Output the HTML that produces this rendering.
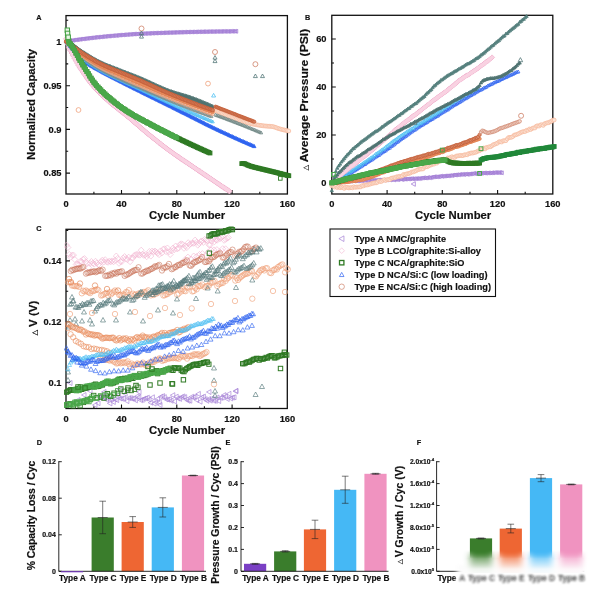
<!DOCTYPE html><html><head><meta charset="utf-8"><title>Figure</title><style>html,body{margin:0;padding:0;background:#fff}svg{display:block}text{stroke:#111;stroke-width:.18px}</style></head><body><svg width="600" height="593" viewBox="0 0 600 593" font-family="Liberation Sans, Arial, Helvetica, sans-serif" font-weight="bold" fill="#111"><defs><marker id="m0" markerUnits="userSpaceOnUse" markerWidth="5.6" markerHeight="5.6" refX="0" refY="0" viewBox="-2.8 -2.8 5.6 5.6" overflow="visible"><path d="M-1.9 0L1.52 -1.9L1.52 1.9Z" fill="none" stroke="#a47fd6" stroke-width="0.9"/></marker><marker id="m1" markerUnits="userSpaceOnUse" markerWidth="6.8" markerHeight="6.8" refX="0" refY="0" viewBox="-3.4 -3.4 6.8 6.8" overflow="visible"><path d="M0 -2.7L2.7 0L0 2.7L-2.7 0Z" fill="#fad9e6" stroke="#eea5c6" stroke-width="0.7"/></marker><marker id="m2" markerUnits="userSpaceOnUse" markerWidth="4.0" markerHeight="4.0" refX="0" refY="0" viewBox="-2.0 -2.0 4.0 4.0" overflow="visible"><path d="M0 -2.0L2.0 0L0 2.0L-2.0 0Z" fill="#f9d2e2" stroke="none" stroke-width="0"/></marker><marker id="m3" markerUnits="userSpaceOnUse" markerWidth="5.2" markerHeight="5.2" refX="0" refY="0" viewBox="-2.6 -2.6 5.2 5.2" overflow="visible"><path d="M0 -1.8L1.8 1.44L-1.8 1.44Z" fill="#2f63f0" stroke="#2f63f0" stroke-width="0.8"/></marker><marker id="m4" markerUnits="userSpaceOnUse" markerWidth="4.8" markerHeight="4.8" refX="0" refY="0" viewBox="-2.4 -2.4 4.8 4.8" overflow="visible"><path d="M0 -1.6L1.6 1.28L-1.6 1.28Z" fill="none" stroke="#4fc0f2" stroke-width="0.8"/></marker><marker id="m5" markerUnits="userSpaceOnUse" markerWidth="4.8" markerHeight="4.8" refX="0" refY="0" viewBox="-2.4 -2.4 4.8 4.8" overflow="visible"><path d="M0 -1.6L1.6 1.28L-1.6 1.28Z" fill="none" stroke="#7d8d8a" stroke-width="0.8"/></marker><marker id="m6" markerUnits="userSpaceOnUse" markerWidth="4.8" markerHeight="4.8" refX="0" refY="0" viewBox="-2.4 -2.4 4.8 4.8" overflow="visible"><path d="M0 -1.6L1.6 1.28L-1.6 1.28Z" fill="#55787a" stroke="#55787a" stroke-width="0.8"/></marker><marker id="m7" markerUnits="userSpaceOnUse" markerWidth="4.8" markerHeight="4.8" refX="0" refY="0" viewBox="-2.4 -2.4 4.8 4.8" overflow="visible"><path d="M0 -1.6L1.6 1.28L-1.6 1.28Z" fill="#4f7371" stroke="#4f7371" stroke-width="0.8"/></marker><marker id="m8" markerUnits="userSpaceOnUse" markerWidth="4.9" markerHeight="4.9" refX="0" refY="0" viewBox="-2.5 -2.5 4.9 4.9" overflow="visible"><circle r="1.65" fill="none" stroke="#f0a27c" stroke-width="0.8"/></marker><marker id="m9" markerUnits="userSpaceOnUse" markerWidth="5.3" markerHeight="5.3" refX="0" refY="0" viewBox="-2.6 -2.6 5.3 5.3" overflow="visible"><circle r="1.95" fill="#fbe3d6" stroke="#f6b89b" stroke-width="0.7"/></marker><marker id="m10" markerUnits="userSpaceOnUse" markerWidth="4.9" markerHeight="4.9" refX="0" refY="0" viewBox="-2.5 -2.5 4.9 4.9" overflow="visible"><circle r="1.65" fill="#e9966c" stroke="#e2804f" stroke-width="0.8"/></marker><marker id="m11" markerUnits="userSpaceOnUse" markerWidth="5.2" markerHeight="5.2" refX="0" refY="0" viewBox="-2.6 -2.6 5.2 5.2" overflow="visible"><circle r="1.7999999999999998" fill="#d27a58" stroke="#c4603a" stroke-width="0.8"/></marker><marker id="m12" markerUnits="userSpaceOnUse" markerWidth="4.9" markerHeight="4.9" refX="0" refY="0" viewBox="-2.5 -2.5 4.9 4.9" overflow="visible"><circle r="1.65" fill="#d27a58" stroke="#c4603a" stroke-width="0.8"/></marker><marker id="m13" markerUnits="userSpaceOnUse" markerWidth="4.8" markerHeight="4.8" refX="0" refY="0" viewBox="-2.4 -2.4 4.8 4.8" overflow="visible"><path d="M0 -1.6L1.6 1.28L-1.6 1.28Z" fill="none" stroke="#6f8684" stroke-width="0.8"/></marker><marker id="m14" markerUnits="userSpaceOnUse" markerWidth="5.9" markerHeight="5.9" refX="0" refY="0" viewBox="-3.0 -3.0 5.9 5.9" overflow="visible"><rect x="-1.85" y="-1.85" width="3.7" height="3.7" fill="#2f7a24" stroke="#2f7a24" stroke-width="1.1"/></marker><marker id="m15" markerUnits="userSpaceOnUse" markerWidth="5.9" markerHeight="5.9" refX="0" refY="0" viewBox="-3.0 -3.0 5.9 5.9" overflow="visible"><rect x="-1.85" y="-1.85" width="3.7" height="3.7" fill="#4aa84a" stroke="#4aa84a" stroke-width="1.1"/></marker><marker id="m16" markerUnits="userSpaceOnUse" markerWidth="5.4" markerHeight="5.4" refX="0" refY="0" viewBox="-2.7 -2.7 5.4 5.4" overflow="visible"><rect x="-1.8" y="-1.8" width="3.6" height="3.6" fill="none" stroke="#2f7a24" stroke-width="0.9"/></marker><marker id="m17" markerUnits="userSpaceOnUse" markerWidth="6.4" markerHeight="6.4" refX="0" refY="0" viewBox="-3.2 -3.2 6.4 6.4" overflow="visible"><rect x="-2.2" y="-2.2" width="4.4" height="4.4" fill="#e9f5e6" stroke="#43a043" stroke-width="1.0"/></marker><marker id="m18" markerUnits="userSpaceOnUse" markerWidth="6.6" markerHeight="6.6" refX="0" refY="0" viewBox="-3.3 -3.3 6.6 6.6" overflow="visible"><circle r="2.5" fill="none" stroke="#cf8168" stroke-width="0.8"/></marker><marker id="m19" markerUnits="userSpaceOnUse" markerWidth="5.6" markerHeight="5.6" refX="0" refY="0" viewBox="-2.8 -2.8 5.6 5.6" overflow="visible"><path d="M0 -2.0L2.0 1.60L-2.0 1.60Z" fill="none" stroke="#55787a" stroke-width="0.8"/></marker><marker id="m20" markerUnits="userSpaceOnUse" markerWidth="6.4" markerHeight="6.4" refX="0" refY="0" viewBox="-3.2 -3.2 6.4 6.4" overflow="visible"><circle r="2.4" fill="none" stroke="#f0a27c" stroke-width="0.8"/></marker><marker id="m21" markerUnits="userSpaceOnUse" markerWidth="5.6" markerHeight="5.6" refX="0" refY="0" viewBox="-2.8 -2.8 5.6 5.6" overflow="visible"><path d="M0 -2.0L2.0 1.60L-2.0 1.60Z" fill="none" stroke="#4fc0f2" stroke-width="0.8"/></marker><marker id="m22" markerUnits="userSpaceOnUse" markerWidth="6.2" markerHeight="6.2" refX="0" refY="0" viewBox="-3.1 -3.1 6.2 6.2" overflow="visible"><path d="M-2.3 0L1.84 -2.3L1.84 2.3Z" fill="none" stroke="#a47fd6" stroke-width="0.8"/></marker><marker id="m23" markerUnits="userSpaceOnUse" markerWidth="4.9" markerHeight="4.9" refX="0" refY="0" viewBox="-2.5 -2.5 4.9 4.9" overflow="visible"><circle r="1.65" fill="#dc9070" stroke="#c4603a" stroke-width="0.8"/></marker><marker id="m24" markerUnits="userSpaceOnUse" markerWidth="4.9" markerHeight="4.9" refX="0" refY="0" viewBox="-2.5 -2.5 4.9 4.9" overflow="visible"><circle r="1.75" fill="#f3d6cb" stroke="#d08a72" stroke-width="0.7"/></marker><marker id="m25" markerUnits="userSpaceOnUse" markerWidth="4.8" markerHeight="4.8" refX="0" refY="0" viewBox="-2.4 -2.4 4.8 4.8" overflow="visible"><path d="M0 -1.6L1.6 1.28L-1.6 1.28Z" fill="none" stroke="#2f63f0" stroke-width="0.8"/></marker><marker id="m26" markerUnits="userSpaceOnUse" markerWidth="6.4" markerHeight="6.4" refX="0" refY="0" viewBox="-3.2 -3.2 6.4 6.4" overflow="visible"><path d="M0 -2.5L2.5 0L0 2.5L-2.5 0Z" fill="#fad9e6" stroke="#efa9c9" stroke-width="0.7"/></marker><marker id="m27" markerUnits="userSpaceOnUse" markerWidth="3.8" markerHeight="3.8" refX="0" refY="0" viewBox="-1.9 -1.9 3.8 3.8" overflow="visible"><path d="M0 -1.9L1.9 0L0 1.9L-1.9 0Z" fill="#f9d2e2" stroke="none" stroke-width="0"/></marker><marker id="m28" markerUnits="userSpaceOnUse" markerWidth="6.2" markerHeight="6.2" refX="0" refY="0" viewBox="-3.1 -3.1 6.2 6.2" overflow="visible"><path d="M0 -2.3L2.3 1.84L-2.3 1.84Z" fill="none" stroke="#55787a" stroke-width="0.8"/></marker><marker id="m29" markerUnits="userSpaceOnUse" markerWidth="4.8" markerHeight="4.8" refX="0" refY="0" viewBox="-2.4 -2.4 4.8 4.8" overflow="visible"><path d="M0 -1.6L1.6 1.28L-1.6 1.28Z" fill="#55807d" stroke="#55807d" stroke-width="0.8"/></marker><marker id="m30" markerUnits="userSpaceOnUse" markerWidth="5.9" markerHeight="5.9" refX="0" refY="0" viewBox="-3.0 -3.0 5.9 5.9" overflow="visible"><rect x="-1.85" y="-1.85" width="3.7" height="3.7" fill="#21883a" stroke="#21883a" stroke-width="1.1"/></marker><marker id="m31" markerUnits="userSpaceOnUse" markerWidth="5.8" markerHeight="5.8" refX="0" refY="0" viewBox="-2.9 -2.9 5.8 5.8" overflow="visible"><rect x="-1.9" y="-1.9" width="3.8" height="3.8" fill="none" stroke="#4aa84a" stroke-width="1.0"/></marker><marker id="m32" markerUnits="userSpaceOnUse" markerWidth="6.3" markerHeight="6.3" refX="0" refY="0" viewBox="-3.1 -3.1 6.3 6.3" overflow="visible"><path d="M-2.5 0L2.00 -2.5L2.00 2.5Z" fill="none" stroke="#a47fd6" stroke-width="0.65"/></marker><marker id="m33" markerUnits="userSpaceOnUse" markerWidth="7.2" markerHeight="7.2" refX="0" refY="0" viewBox="-3.6 -3.6 7.2 7.2" overflow="visible"><path d="M0 -3.0L3.0 0L0 3.0L-3.0 0Z" fill="none" stroke="#f2b3d0" stroke-width="0.6"/></marker><marker id="m34" markerUnits="userSpaceOnUse" markerWidth="6.6" markerHeight="6.6" refX="0" refY="0" viewBox="-3.3 -3.3 6.6 6.6" overflow="visible"><circle r="2.7" fill="none" stroke="#c9735a" stroke-width="0.6"/></marker><marker id="m35" markerUnits="userSpaceOnUse" markerWidth="6.7" markerHeight="6.7" refX="0" refY="0" viewBox="-3.4 -3.4 6.7 6.7" overflow="visible"><circle r="2.7" fill="none" stroke="#f0a27c" stroke-width="0.65"/></marker><marker id="m36" markerUnits="userSpaceOnUse" markerWidth="6.7" markerHeight="6.7" refX="0" refY="0" viewBox="-3.4 -3.4 6.7 6.7" overflow="visible"><circle r="2.7" fill="none" stroke="#e2804f" stroke-width="0.65"/></marker><marker id="m37" markerUnits="userSpaceOnUse" markerWidth="6.3" markerHeight="6.3" refX="0" refY="0" viewBox="-3.1 -3.1 6.3 6.3" overflow="visible"><path d="M0 -2.5L2.5 2.00L-2.5 2.00Z" fill="none" stroke="#55787a" stroke-width="0.65"/></marker><marker id="m38" markerUnits="userSpaceOnUse" markerWidth="6.7" markerHeight="6.7" refX="0" refY="0" viewBox="-3.4 -3.4 6.7 6.7" overflow="visible"><circle r="2.7" fill="none" stroke="#ea8f62" stroke-width="0.65"/></marker><marker id="m39" markerUnits="userSpaceOnUse" markerWidth="5.5" markerHeight="5.5" refX="0" refY="0" viewBox="-2.8 -2.8 5.5 5.5" overflow="visible"><path d="M0 -2.1L2.1 1.68L-2.1 1.68Z" fill="none" stroke="#4fc0f2" stroke-width="0.65"/></marker><marker id="m40" markerUnits="userSpaceOnUse" markerWidth="6.1" markerHeight="6.1" refX="0" refY="0" viewBox="-3.0 -3.0 6.1 6.1" overflow="visible"><path d="M0 -2.4L2.4 1.92L-2.4 1.92Z" fill="none" stroke="#2f63f0" stroke-width="0.65"/></marker><marker id="m41" markerUnits="userSpaceOnUse" markerWidth="6.2" markerHeight="6.2" refX="0" refY="0" viewBox="-3.1 -3.1 6.2 6.2" overflow="visible"><rect x="-2.1" y="-2.1" width="4.2" height="4.2" fill="none" stroke="#2f7a24" stroke-width="1.0"/></marker><marker id="m42" markerUnits="userSpaceOnUse" markerWidth="6.2" markerHeight="6.2" refX="0" refY="0" viewBox="-3.1 -3.1 6.2 6.2" overflow="visible"><rect x="-2.2" y="-2.2" width="4.4" height="4.4" fill="none" stroke="#2f7a24" stroke-width="0.9"/></marker><marker id="m43" markerUnits="userSpaceOnUse" markerWidth="6.2" markerHeight="6.2" refX="0" refY="0" viewBox="-3.1 -3.1 6.2 6.2" overflow="visible"><rect x="-2.2" y="-2.2" width="4.4" height="4.4" fill="none" stroke="#4aa84a" stroke-width="0.9"/></marker><marker id="m44" markerUnits="userSpaceOnUse" markerWidth="6.2" markerHeight="6.2" refX="0" refY="0" viewBox="-3.1 -3.1 6.2 6.2" overflow="visible"><rect x="-2.1" y="-2.1" width="4.2" height="4.2" fill="none" stroke="#4aa84a" stroke-width="1.0"/></marker><marker id="m45" markerUnits="userSpaceOnUse" markerWidth="6.4" markerHeight="6.4" refX="0" refY="0" viewBox="-3.2 -3.2 6.4 6.4" overflow="visible"><rect x="-2.2" y="-2.2" width="4.4" height="4.4" fill="none" stroke="#2f7a24" stroke-width="1.0"/></marker></defs><rect width="600" height="593" fill="#fff"/>
<rect x="66.0" y="15.6" width="221.39999999999998" height="178.4" fill="none" stroke="#111" stroke-width="1.3"/>
<path d="M121.5 194.0v-4M176.8 194.0v-4M232.1 194.0v-4" stroke="#111" stroke-width="1.1" fill="none"/>
<path d="M93.9 194.0v-2.2M149.2 194.0v-2.2M204.4 194.0v-2.2M259.8 194.0v-2.2" stroke="#111" stroke-width="1.1" fill="none"/>
<path d="M66.0 42.0h4M66.0 85.7h4M66.0 129.4h4M66.0 173.1h4" stroke="#111" stroke-width="1.1" fill="none"/>
<path d="M66.0 20.2h2.2M66.0 63.9h2.2M66.0 107.5h2.2M66.0 151.2h2.2" stroke="#111" stroke-width="1.1" fill="none"/>
<g id="plotA">
<polyline points="70.3,40.8 71.7,40.5 73.1,40.3 74.5,40.0 75.9,39.8 77.3,39.7 78.6,39.5 80.0,39.3 81.4,39.1 82.8,38.9 84.2,38.8 85.6,38.6 86.9,38.4 88.3,38.3 89.7,38.1 91.1,37.9 92.5,37.8 93.9,37.6 95.2,37.4 96.6,37.3 98.0,37.2 99.4,37.0 100.8,36.9 102.1,36.7 103.5,36.6 104.9,36.5 106.3,36.3 107.7,36.2 109.1,36.1 110.4,36.0 111.8,35.8 113.2,35.7 114.6,35.6 116.0,35.5 117.4,35.4 118.7,35.2 120.1,35.1 121.5,35.0 122.9,34.9 124.3,34.8 125.6,34.7 127.0,34.6 128.4,34.5 129.8,34.4 131.2,34.3 132.6,34.2 133.9,34.1 135.3,34.0 136.7,34.0 138.1,33.9 139.5,33.8 140.9,33.7 142.2,33.7 143.6,33.6 145.0,33.5 146.4,33.5 147.8,33.4 149.2,33.4 150.5,33.3 151.9,33.2 153.3,33.2 154.7,33.1 156.1,33.1 157.4,33.0 158.8,33.0 160.2,32.9 161.6,32.9 163.0,32.8 164.4,32.8 165.7,32.7 167.1,32.7 168.5,32.6 169.9,32.6 171.3,32.6 172.7,32.5 174.0,32.5 175.4,32.4 176.8,32.4 178.2,32.3 179.6,32.3 180.9,32.3 182.3,32.2 183.7,32.2 185.1,32.1 186.5,32.1 187.9,32.1 189.2,32.0 190.6,32.0 192.0,32.0 193.4,31.9 194.8,31.9 196.2,31.9 197.5,31.8 198.9,31.8 200.3,31.8 201.7,31.8 203.1,31.7 204.4,31.7 205.8,31.7 207.2,31.7 208.6,31.6 210.0,31.6 211.4,31.6 212.7,31.6 214.1,31.6 215.5,31.5 216.9,31.5 218.3,31.5 219.7,31.5 221.0,31.5 222.4,31.4 223.8,31.4 225.2,31.4 226.6,31.4 228.0,31.4 229.3,31.4 230.7,31.3 232.1,31.3 233.5,31.3 234.9,31.3 236.2,31.3" fill="none" stroke="none" marker-start="url(#m0)" marker-mid="url(#m0)" marker-end="url(#m0)"/>
<polyline points="66.2,38.9 67.6,44.1 69.0,47.7 70.3,50.3 71.7,53.0 73.1,55.6 74.5,58.2 75.9,60.7 77.3,63.1 78.6,65.4 80.0,67.7 81.4,69.8 82.8,71.9 84.2,74.0 85.6,76.0 86.9,77.9 88.3,79.8 89.7,81.7 91.1,83.4 92.5,85.1 93.9,86.7 95.2,88.2 96.6,89.7 98.0,91.2 99.4,92.6 100.8,94.0 102.1,95.3 103.5,96.6 104.9,97.9 106.3,99.2 107.7,100.4 109.1,101.6 110.4,102.8 111.8,103.9 113.2,105.1 114.6,106.2 116.0,107.3 117.4,108.4 118.7,109.5 120.1,110.5 121.5,111.6 122.9,112.7 124.3,113.8 125.6,114.9 127.0,116.0 128.4,117.2 129.8,118.3 131.2,119.5 132.6,120.7 133.9,121.9 135.3,123.0 136.7,124.2 138.1,125.4 139.5,126.6 140.9,127.8 142.2,129.0 143.6,130.2 145.0,131.4 146.4,132.5 147.8,133.7 149.2,134.8 150.5,135.9 151.9,137.0 153.3,138.2 154.7,139.3 156.1,140.4 157.4,141.4 158.8,142.5 160.2,143.6 161.6,144.7 163.0,145.7 164.4,146.8 165.7,147.8 167.1,148.9 168.5,149.9 169.9,150.9 171.3,151.9 172.7,152.9 174.0,153.9 175.4,154.8 176.8,155.8 178.2,156.8 179.6,157.7 180.9,158.7 182.3,159.6 183.7,160.5 185.1,161.5 186.5,162.4 187.9,163.3 189.2,164.3 190.6,165.2 192.0,166.1 193.4,167.1 194.8,168.0 196.2,168.9 197.5,169.8 198.9,170.8 200.3,171.7 201.7,172.6 203.1,173.6 204.4,174.5 205.8,175.4 207.2,176.4 208.6,177.3 210.0,178.2 211.4,179.2 212.7,180.1 214.1,181.0 215.5,181.9 216.9,182.9 218.3,183.8 219.7,184.7 221.0,185.7 222.4,186.6 223.8,187.5 225.2,188.4 226.6,189.4 228.0,190.3 229.3,191.2" fill="none" stroke="none" marker-start="url(#m1)" marker-mid="url(#m1)" marker-end="url(#m1)"/>
<polyline points="66.2,38.9 66.9,41.6 67.6,44.1 68.3,46.2 69.0,47.7 69.7,49.0 70.3,50.3 71.0,51.6 71.7,53.0 72.4,54.3 73.1,55.6 73.8,56.9 74.5,58.2 75.2,59.4 75.9,60.7 76.6,61.9 77.3,63.1 78.0,64.2 78.6,65.4 79.3,66.5 80.0,67.7 80.7,68.8 81.4,69.8 82.1,70.9 82.8,71.9 83.5,73.0 84.2,74.0 84.9,75.0 85.6,76.0 86.2,77.0 86.9,77.9 87.6,78.9 88.3,79.8 89.0,80.7 89.7,81.7 90.4,82.5 91.1,83.4 91.8,84.3 92.5,85.1 93.2,85.9 93.9,86.7 94.5,87.5 95.2,88.2 95.9,89.0 96.6,89.7 97.3,90.5 98.0,91.2 98.7,91.9 99.4,92.6 100.1,93.3 100.8,94.0 101.5,94.6 102.1,95.3 102.8,96.0 103.5,96.6 104.2,97.3 104.9,97.9 105.6,98.6 106.3,99.2 107.0,99.8 107.7,100.4 108.4,101.0 109.1,101.6 109.7,102.2 110.4,102.8 111.1,103.4 111.8,103.9 112.5,104.5 113.2,105.1 113.9,105.6 114.6,106.2 115.3,106.7 116.0,107.3 116.7,107.8 117.4,108.4 118.0,108.9 118.7,109.5 119.4,110.0 120.1,110.5 120.8,111.1 121.5,111.6 122.2,112.2 122.9,112.7 123.6,113.3 124.3,113.8 125.0,114.4 125.6,114.9 126.3,115.5 127.0,116.0 127.7,116.6 128.4,117.2 129.1,117.8 129.8,118.3 130.5,118.9 131.2,119.5 131.9,120.1 132.6,120.7 133.3,121.3 133.9,121.9 134.6,122.5 135.3,123.0 136.0,123.6 136.7,124.2 137.4,124.8 138.1,125.4 138.8,126.0 139.5,126.6 140.2,127.2 140.9,127.8 141.5,128.4 142.2,129.0 142.9,129.6 143.6,130.2 144.3,130.8 145.0,131.4 145.7,131.9 146.4,132.5 147.1,133.1 147.8,133.7 148.5,134.2 149.2,134.8 149.8,135.4 150.5,135.9 151.2,136.5 151.9,137.0 152.6,137.6 153.3,138.2 154.0,138.7 154.7,139.3 155.4,139.8 156.1,140.4 156.8,140.9 157.4,141.4 158.1,142.0 158.8,142.5 159.5,143.1 160.2,143.6 160.9,144.1 161.6,144.7 162.3,145.2 163.0,145.7 163.7,146.3 164.4,146.8 165.0,147.3 165.7,147.8 166.4,148.4 167.1,148.9 167.8,149.4 168.5,149.9 169.2,150.4 169.9,150.9 170.6,151.4 171.3,151.9 172.0,152.4 172.7,152.9 173.3,153.4 174.0,153.9 174.7,154.4 175.4,154.8 176.1,155.3 176.8,155.8 177.5,156.3 178.2,156.8 178.9,157.2 179.6,157.7 180.3,158.2 180.9,158.7 181.6,159.1 182.3,159.6 183.0,160.1 183.7,160.5 184.4,161.0 185.1,161.5 185.8,161.9 186.5,162.4 187.2,162.9 187.9,163.3 188.6,163.8 189.2,164.3 189.9,164.7 190.6,165.2 191.3,165.7 192.0,166.1 192.7,166.6 193.4,167.1 194.1,167.5 194.8,168.0 195.5,168.5 196.2,168.9 196.8,169.4 197.5,169.8 198.2,170.3 198.9,170.8 199.6,171.2 200.3,171.7 201.0,172.2 201.7,172.6 202.4,173.1 203.1,173.6 203.8,174.0 204.4,174.5 205.1,175.0 205.8,175.4 206.5,175.9 207.2,176.4 207.9,176.8 208.6,177.3 209.3,177.8 210.0,178.2 210.7,178.7 211.4,179.2 212.1,179.6 212.7,180.1 213.4,180.5 214.1,181.0 214.8,181.5 215.5,181.9 216.2,182.4 216.9,182.9 217.6,183.3 218.3,183.8 219.0,184.3 219.7,184.7 220.3,185.2 221.0,185.7 221.7,186.1 222.4,186.6 223.1,187.0 223.8,187.5 224.5,188.0 225.2,188.4 225.9,188.9 226.6,189.4 227.3,189.8 228.0,190.3 228.6,190.8" fill="none" stroke="none" marker-start="url(#m2)" marker-mid="url(#m2)" marker-end="url(#m2)"/>
<polyline points="66.2,41.0 67.6,42.7 69.0,44.4 70.3,46.1 71.7,47.7 73.1,49.3 74.5,50.9 75.9,52.6 77.3,54.1 78.6,55.6 80.0,57.0 81.4,58.3 82.8,59.6 84.2,60.8 85.6,61.9 86.9,63.0 88.3,63.9 89.7,64.8 91.1,65.7 92.5,66.5 93.9,67.3 95.2,68.1 96.6,68.9 98.0,69.6 99.4,70.4 100.8,71.1 102.1,71.9 103.5,72.7 104.9,73.4 106.3,74.1 107.7,74.9 109.1,75.6 110.4,76.3 111.8,77.0 113.2,77.7 114.6,78.4 116.0,79.1 117.4,79.8 118.7,80.5 120.1,81.2 121.5,81.9 122.9,82.6 124.3,83.3 125.6,84.0 127.0,84.7 128.4,85.4 129.8,86.1 131.2,86.8 132.6,87.5 133.9,88.2 135.3,88.9 136.7,89.6 138.1,90.2 139.5,90.9 140.9,91.6 142.2,92.3 143.6,93.0 145.0,93.7 146.4,94.4 147.8,95.0 149.2,95.7 150.5,96.4 151.9,97.1 153.3,97.8 154.7,98.4 156.1,99.1 157.4,99.8 158.8,100.5 160.2,101.2 161.6,101.8 163.0,102.5 164.4,103.2 165.7,103.9 167.1,104.6 168.5,105.3 169.9,105.9 171.3,106.6 172.7,107.3 174.0,108.0 175.4,108.7 176.8,109.4 178.2,110.1 179.6,110.8 180.9,111.5 182.3,112.2 183.7,112.9 185.1,113.5 186.5,114.2 187.9,114.9 189.2,115.6 190.6,116.3 192.0,117.0 193.4,117.7 194.8,118.4 196.2,119.1 197.5,119.8 198.9,120.5 200.3,121.2 201.7,121.9 203.1,122.6 204.4,123.3 205.8,124.0 207.2,124.7 208.6,125.4 210.0,126.0 211.4,126.7 212.7,127.4 214.1,128.0 215.5,128.7 216.9,129.4 218.3,130.0 219.7,130.7 221.0,131.3 222.4,132.0 223.8,132.6 225.2,133.2 226.6,133.9 228.0,134.5 229.3,135.2 230.7,135.8 232.1,136.4 233.5,137.1 234.9,137.7 236.2,138.3 237.6,138.9 239.0,139.6 240.4,140.2 241.8,140.8 243.2,141.4 244.5,142.0 245.9,142.6 247.3,143.2 248.7,143.8 250.1,144.4 251.5,145.0 252.8,145.6 254.2,146.2" fill="none" stroke="none" marker-start="url(#m3)" marker-mid="url(#m3)" marker-end="url(#m3)"/>
<polyline points="66.2,41.0 67.6,42.7 69.0,44.4 70.3,46.0 71.7,47.6 73.1,49.2 74.5,50.7 75.9,52.1 77.3,53.5 78.6,54.8 80.0,56.0 81.4,57.2 82.8,58.3 84.2,59.4 85.6,60.4 86.9,61.4 88.3,62.4 89.7,63.3 91.1,64.3 92.5,65.2 93.9,66.0 95.2,66.9 96.6,67.7 98.0,68.5 99.4,69.4 100.8,70.2 102.1,70.9 103.5,71.7 104.9,72.4 106.3,73.1 107.7,73.8 109.1,74.5 110.4,75.2 111.8,75.8 113.2,76.5 114.6,77.1 116.0,77.8 117.4,78.4 118.7,79.1 120.1,79.7 121.5,80.4 122.9,81.0 124.3,81.7 125.6,82.3 127.0,83.0 128.4,83.6 129.8,84.2 131.2,84.8 132.6,85.5 133.9,86.1 135.3,86.7 136.7,87.4 138.1,88.0 139.5,88.6 140.9,89.3 142.2,89.9 143.6,90.6 145.0,91.2 146.4,91.9 147.8,92.5 149.2,93.2 150.5,93.9 151.9,94.5 153.3,95.2 154.7,95.8 156.1,96.5 157.4,97.2 158.8,97.8 160.2,98.5 161.6,99.1 163.0,99.8 164.4,100.4 165.7,101.0 167.1,101.7 168.5,102.3 169.9,102.9 171.3,103.6 172.7,104.2 174.0,104.8 175.4,105.4 176.8,106.1 178.2,106.7 179.6,107.3 180.9,107.9 182.3,108.5 183.7,109.1 185.1,109.8 186.5,110.4 187.9,111.0 189.2,111.6 190.6,112.2 192.0,112.8 193.4,113.4 194.8,114.0 196.2,114.6 197.5,115.2 198.9,115.8 200.3,116.4 201.7,117.0 203.1,117.6 204.4,118.2 205.8,118.7 207.2,119.3 208.6,119.9 210.0,120.5 211.4,121.1 212.7,121.6" fill="none" stroke="none" marker-start="url(#m4)" marker-mid="url(#m4)" marker-end="url(#m4)"/>
<polyline points="66.2,41.1 67.6,42.7 69.0,44.2 70.3,45.7 71.7,47.2 73.1,48.6 74.5,50.0 75.9,51.3 77.3,52.6 78.6,53.9 80.0,55.0 81.4,56.1 82.8,57.2 84.2,58.3 85.6,59.3 86.9,60.3 88.3,61.3 89.7,62.3 91.1,63.2 92.5,64.1 93.9,65.0 95.2,65.9 96.6,66.7 98.0,67.5 99.4,68.4 100.8,69.2 102.1,69.9 103.5,70.7 104.9,71.4 106.3,72.1 107.7,72.8 109.1,73.5 110.4,74.2 111.8,74.9 113.2,75.5 114.6,76.2 116.0,76.8 117.4,77.4 118.7,78.1 120.1,78.7 121.5,79.4 122.9,80.0 124.3,80.6 125.6,81.2 127.0,81.9 128.4,82.5 129.8,83.1 131.2,83.7 132.6,84.3 133.9,84.9 135.3,85.5 136.7,86.1 138.1,86.6 139.5,87.2 140.9,87.8 142.2,88.4 143.6,89.0 145.0,89.6 146.4,90.3 147.8,90.9 149.2,91.5 150.5,92.1 151.9,92.7 153.3,93.3 154.7,93.9 156.1,94.4 157.4,95.0 158.8,95.6 160.2,96.2 161.6,96.8 163.0,97.4 164.4,98.0 165.7,98.5 167.1,99.1 168.5,99.7 169.9,100.3 171.3,100.8 172.7,101.4 174.0,101.9 175.4,102.5 176.8,103.0 178.2,103.6 179.6,104.2 180.9,104.7 182.3,105.2 183.7,105.8 185.1,106.3 186.5,106.9 187.9,107.4 189.2,108.0 190.6,108.5 192.0,109.0 193.4,109.6 194.8,110.1 196.2,110.6 197.5,111.1 198.9,111.7 200.3,112.2 201.7,112.7 203.1,113.2 204.4,113.7 205.8,114.2 207.2,114.8 208.6,115.3 210.0,115.8 211.4,116.3" fill="none" stroke="none" marker-start="url(#m5)" marker-mid="url(#m5)" marker-end="url(#m5)"/>
<polyline points="66.2,41.6 67.6,42.3 69.0,43.0 70.3,43.8 71.7,44.6 73.1,45.6 74.5,46.6 75.9,47.8 77.3,48.9 78.6,50.0 80.0,51.0 81.4,52.0 82.8,52.9 84.2,53.8 85.6,54.7 86.9,55.6 88.3,56.5 89.7,57.3 91.1,58.2 92.5,59.0 93.9,59.8 95.2,60.6 96.6,61.3 98.0,62.0 99.4,62.7 100.8,63.4 102.1,64.1 103.5,64.7 104.9,65.3 106.3,65.9 107.7,66.5 109.1,67.1 110.4,67.6 111.8,68.1 113.2,68.7 114.6,69.2 116.0,69.7 117.4,70.3 118.7,70.8 120.1,71.4 121.5,71.9 122.9,72.5 124.3,73.0 125.6,73.5 127.0,74.1 128.4,74.6 129.8,75.1 131.2,75.7 132.6,76.2 133.9,76.7 135.3,77.3 136.7,77.8 138.1,78.4 139.5,78.9 140.9,79.5 142.2,80.1 143.6,80.7 145.0,81.3 146.4,81.9 147.8,82.6 149.2,83.2 150.5,83.8 151.9,84.5 153.3,85.1 154.7,85.7 156.1,86.4 157.4,87.0 158.8,87.6 160.2,88.2 161.6,88.8 163.0,89.4 164.4,90.0 165.7,90.6 167.1,91.2 168.5,91.7 169.9,92.3 171.3,92.8 172.7,93.3 174.0,93.7 175.4,94.2 176.8,94.7 178.2,95.1 179.6,95.6 180.9,96.0 182.3,96.4 183.7,96.9 185.1,97.3 186.5,97.8 187.9,98.2 189.2,98.7 190.6,99.2 192.0,99.7 193.4,100.2 194.8,100.8 196.2,101.3 197.5,101.8 198.9,102.3 200.3,102.9 201.7,103.4 203.1,103.9 204.4,104.5 205.8,105.0 207.2,105.6 208.6,106.2 210.0,106.7 211.4,107.3 212.7,107.9" fill="none" stroke="none" marker-start="url(#m6)" marker-mid="url(#m6)" marker-end="url(#m6)"/>
<polyline points="66.2,41.8 67.6,42.2 69.0,42.6 70.3,43.2 71.7,43.9 73.1,44.6 74.5,45.6 75.9,46.6 77.3,47.8 78.6,48.8 80.0,49.8 81.4,50.7 82.8,51.6 84.2,52.5 85.6,53.4 86.9,54.3 88.3,55.2 89.7,56.0 91.1,56.9 92.5,57.7 93.9,58.5 95.2,59.3 96.6,60.0 98.0,60.7 99.4,61.5 100.8,62.1 102.1,62.8 103.5,63.4 104.9,64.0 106.3,64.6 107.7,65.2 109.1,65.7 110.4,66.2 111.8,66.8 113.2,67.3 114.6,67.8 116.0,68.4 117.4,68.9 118.7,69.4 120.1,70.0 121.5,70.5 122.9,71.1 124.3,71.6 125.6,72.1 127.0,72.7 128.4,73.2 129.8,73.7 131.2,74.3 132.6,74.8 133.9,75.3 135.3,75.9 136.7,76.4 138.1,77.0 139.5,77.5 140.9,78.1 142.2,78.7 143.6,79.3 145.0,79.9 146.4,80.5 147.8,81.2 149.2,81.8 150.5,82.4 151.9,83.1 153.3,83.7 154.7,84.3 156.1,85.0 157.4,85.6 158.8,86.2 160.2,86.8 161.6,87.4 163.0,88.0 164.4,88.6 165.7,89.2 167.1,89.7 168.5,90.3 169.9,90.8 171.3,91.2 172.7,91.7 174.0,92.1 175.4,92.6 176.8,93.0 178.2,93.4 179.6,93.8 180.9,94.2 182.3,94.6 183.7,95.0 185.1,95.4 186.5,95.8 187.9,96.3 189.2,96.7 190.6,97.2 192.0,97.7 193.4,98.2 194.8,98.7 196.2,99.2 197.5,99.8 198.9,100.3 200.3,100.9 201.7,101.4 203.1,102.0 204.4,102.6 205.8,103.1 207.2,103.7 208.6,104.3 210.0,104.9 211.4,105.6 212.7,106.2" fill="none" stroke="none" marker-start="url(#m7)" marker-mid="url(#m7)" marker-end="url(#m7)"/>
<polyline points="66.2,41.2 67.6,42.6 69.0,44.0 70.3,45.4 71.7,46.7 73.1,48.0 74.5,49.3 75.9,50.6 77.3,51.8 78.6,52.9 80.0,54.0 81.4,55.1 82.8,56.1 84.2,57.1 85.6,58.1 86.9,59.1 88.3,60.0 89.7,60.9 91.1,61.9 92.5,62.7 93.9,63.6 95.2,64.5 96.6,65.3 98.0,66.1 99.4,66.9 100.8,67.6 102.1,68.4 103.5,69.1 104.9,69.8 106.3,70.5 107.7,71.1 109.1,71.8 110.4,72.4 111.8,73.0 113.2,73.7 114.6,74.3 116.0,74.9 117.4,75.5 118.7,76.1 120.1,76.7 121.5,77.4 122.9,78.0 124.3,78.6 125.6,79.2 127.0,79.8 128.4,80.4 129.8,81.1 131.2,81.7 132.6,82.3 133.9,82.9 135.3,83.5 136.7,84.1 138.1,84.7 139.5,85.2 140.9,85.8 142.2,86.4 143.6,87.0 145.0,87.6 146.4,88.2 147.8,88.8 149.2,89.4 150.5,90.0 151.9,90.6 153.3,91.1 154.7,91.7 156.1,92.3 157.4,92.9 158.8,93.5 160.2,94.0 161.6,94.6 163.0,95.2 164.4,95.7 165.7,96.3 167.1,96.9 168.5,97.4 169.9,98.0 171.3,98.5 172.7,99.0 174.0,99.6 175.4,100.1 176.8,100.7 178.2,101.2 179.6,101.7 180.9,102.3 182.3,102.8 183.7,103.3 185.1,103.9 186.5,104.4 187.9,104.9 189.2,105.4 190.6,105.9 192.0,106.5 193.4,107.0 194.8,107.5 196.2,108.0 197.5,108.5 198.9,109.0 200.3,109.5 201.7,110.0 203.1,110.5 204.4,111.0 205.8,111.5 207.2,112.0 208.6,112.5 210.0,113.0 211.4,113.4 212.7,113.9" fill="none" stroke="none" marker-start="url(#m8)" marker-mid="url(#m8)" marker-end="url(#m8)"/>
<polyline points="215.5,110.3 216.9,111.0 218.3,111.7 219.7,112.4 221.0,113.1 222.4,113.7 223.8,114.4 225.2,115.0 226.6,115.6 228.0,116.2 229.3,116.7 230.7,117.3 232.1,117.8 233.5,118.4 234.9,118.9 236.2,119.4 237.6,119.9 239.0,120.3 240.4,120.8 241.8,121.2 243.2,121.6 244.5,122.0 245.9,122.4 247.3,122.8 248.7,123.1 250.1,123.4 251.5,123.8 252.8,124.1 254.2,124.3 255.6,124.6 257.0,124.9 258.4,125.1 259.8,125.3 261.1,125.5 262.5,125.7 263.9,125.9 265.3,126.0 266.7,126.1 268.0,126.2 269.4,126.3 270.8,126.4 272.2,126.5 273.6,126.8 275.0,127.2 276.3,127.7 277.7,128.3 279.1,128.7 280.5,129.1 281.9,129.5 283.3,129.8 284.6,130.1 286.0,130.4 287.4,130.7 288.8,131.0" fill="none" stroke="none" marker-start="url(#m9)" marker-mid="url(#m9)" marker-end="url(#m9)"/>
<polyline points="66.2,41.3 67.6,42.5 69.0,43.8 70.3,45.1 71.7,46.3 73.1,47.5 74.5,48.6 75.9,49.8 77.3,50.9 78.6,52.0 80.0,53.0 81.4,54.0 82.8,55.0 84.2,55.9 85.6,56.9 86.9,57.8 88.3,58.7 89.7,59.6 91.1,60.4 92.5,61.3 93.9,62.1 95.2,62.9 96.6,63.7 98.0,64.5 99.4,65.2 100.8,65.9 102.1,66.6 103.5,67.3 104.9,68.0 106.3,68.7 107.7,69.3 109.1,69.9 110.4,70.5 111.8,71.1 113.2,71.7 114.6,72.3 116.0,72.9 117.4,73.5 118.7,74.1 120.1,74.7 121.5,75.4 122.9,76.0 124.3,76.6 125.6,77.2 127.0,77.8 128.4,78.4 129.8,79.0 131.2,79.6 132.6,80.2 133.9,80.8 135.3,81.4 136.7,82.0 138.1,82.6 139.5,83.1 140.9,83.7 142.2,84.3 143.6,84.9 145.0,85.5 146.4,86.1 147.8,86.7 149.2,87.3 150.5,87.9 151.9,88.5 153.3,89.1 154.7,89.7 156.1,90.3 157.4,90.8 158.8,91.4 160.2,92.0 161.6,92.6 163.0,93.2 164.4,93.7 165.7,94.3 167.1,94.8 168.5,95.4 169.9,96.0 171.3,96.5 172.7,97.0 174.0,97.6 175.4,98.1 176.8,98.7 178.2,99.2 179.6,99.7 180.9,100.3 182.3,100.8 183.7,101.3 185.1,101.9 186.5,102.4 187.9,102.9 189.2,103.4 190.6,104.0 192.0,104.5 193.4,105.0 194.8,105.5 196.2,106.0 197.5,106.5 198.9,107.0 200.3,107.5 201.7,108.0 203.1,108.5 204.4,109.0 205.8,109.5 207.2,110.0 208.6,110.5 210.0,111.0 211.4,111.4 212.7,111.9" fill="none" stroke="none" marker-start="url(#m10)" marker-mid="url(#m10)" marker-end="url(#m10)"/>
<polyline points="66.2,41.4 67.6,42.4 69.0,43.4 70.3,44.4 71.7,45.4 73.1,46.4 74.5,47.5 75.9,48.5 77.3,49.6 78.6,50.6 80.0,51.5 81.4,52.4 82.8,53.4 84.2,54.3 85.6,55.2 86.9,56.0 88.3,56.9 89.7,57.8 91.1,58.6 92.5,59.4 93.9,60.2 95.2,61.0 96.6,61.8 98.0,62.5 99.4,63.2 100.8,63.9 102.1,64.6 103.5,65.2 104.9,65.9 106.3,66.5 107.7,67.1 109.1,67.7 110.4,68.2 111.8,68.8 113.2,69.4 114.6,69.9 116.0,70.5 117.4,71.0 118.7,71.6 120.1,72.2 121.5,72.7 122.9,73.3 124.3,73.9 125.6,74.4 127.0,75.0 128.4,75.6 129.8,76.1 131.2,76.7 132.6,77.3 133.9,77.8 135.3,78.4 136.7,79.0 138.1,79.6 139.5,80.1 140.9,80.7 142.2,81.3 143.6,82.0 145.0,82.6 146.4,83.2 147.8,83.8 149.2,84.5 150.5,85.1 151.9,85.7 153.3,86.4 154.7,87.0 156.1,87.6 157.4,88.3 158.8,88.9 160.2,89.5 161.6,90.2 163.0,90.8 164.4,91.4 165.7,92.0 167.1,92.6 168.5,93.2 169.9,93.8 171.3,94.3 172.7,94.9 174.0,95.5 175.4,96.0 176.8,96.6 178.2,97.1 179.6,97.7 180.9,98.3 182.3,98.8 183.7,99.4 185.1,99.9 186.5,100.4 187.9,101.0 189.2,101.5 190.6,102.0 192.0,102.6 193.4,103.1 194.8,103.6 196.2,104.1 197.5,104.7 198.9,105.2 200.3,105.7 201.7,106.2 203.1,106.7 204.4,107.2 205.8,107.7 207.2,108.2 208.6,108.7 210.0,109.2 211.4,109.6 212.7,110.1" fill="none" stroke="none" marker-start="url(#m11)" marker-mid="url(#m11)" marker-end="url(#m11)"/>
<polyline points="215.5,106.7 216.9,107.2 218.3,107.8 219.7,108.3 221.0,108.9 222.4,109.4 223.8,109.9 225.2,110.5 226.6,111.0 228.0,111.6 229.3,112.1 230.7,112.6 232.1,113.2 233.5,113.7 234.9,114.2 236.2,114.8 237.6,115.3 239.0,115.9 240.4,116.4 241.8,116.9 243.2,117.5 244.5,118.0 245.9,118.5 247.3,119.1 248.7,119.6 250.1,120.1 251.5,120.6 252.8,121.2 254.2,121.7" fill="none" stroke="none" marker-start="url(#m12)" marker-mid="url(#m12)" marker-end="url(#m12)"/>
<polyline points="215.5,114.8 216.9,115.3 218.3,115.8 219.7,116.3 221.0,116.8 222.4,117.3 223.8,117.8 225.2,118.3 226.6,118.9 228.0,119.4 229.3,119.9 230.7,120.4 232.1,120.9 233.5,121.5 234.9,122.0 236.2,122.5 237.6,123.1 239.0,123.6 240.4,124.2 241.8,124.7 243.2,125.2 244.5,125.8 245.9,126.3 247.3,126.9 248.7,127.5 250.1,128.0 251.5,128.6 252.8,129.2 254.2,129.7 255.6,130.3 257.0,130.9 258.4,131.5 259.8,132.0 261.1,132.6" fill="none" stroke="none" marker-start="url(#m13)" marker-mid="url(#m13)" marker-end="url(#m13)"/>
<polyline points="67.6,32.7 69.0,40.7 70.3,43.9 71.7,45.8 73.1,48.1 74.5,50.5 75.9,53.1 77.3,55.6 78.6,58.0 80.0,60.4 81.4,62.7 82.8,64.9 84.2,67.1 85.6,69.3 86.9,71.5 88.3,73.7 89.7,76.0 91.1,78.2 92.5,80.2 93.9,82.2 95.2,83.9 96.6,85.5 98.0,87.1 99.4,88.6 100.8,90.0 102.1,91.4 103.5,92.7 104.9,94.0 106.3,95.3 107.7,96.5 109.1,97.7 110.4,98.8 111.8,100.0 113.2,101.1 114.6,102.2 116.0,103.3 117.4,104.3 118.7,105.4 120.1,106.4 121.5,107.4 122.9,108.4 124.3,109.3 125.6,110.2 127.0,111.2 128.4,112.1 129.8,112.9 131.2,113.8 132.6,114.6 133.9,115.4 135.3,116.2 136.7,117.0 138.1,117.7 139.5,118.5 140.9,119.2 142.2,119.9 143.6,120.7 145.0,121.4 146.4,122.1 147.8,122.9 149.2,123.6 150.5,124.3 151.9,125.1 153.3,125.8 154.7,126.5 156.1,127.3 157.4,128.0 158.8,128.7 160.2,129.4 161.6,130.1 163.0,130.8 164.4,131.5 165.7,132.2 167.1,132.9 168.5,133.6 169.9,134.3 171.3,135.0 172.7,135.7 174.0,136.4 175.4,137.0 176.8,137.7 178.2,138.4 179.6,139.0 180.9,139.7 182.3,140.4 183.7,141.0 185.1,141.7 186.5,142.3 187.9,143.0 189.2,143.6 190.6,144.3 192.0,144.9 193.4,145.6 194.8,146.2 196.2,146.8 197.5,147.5 198.9,148.1 200.3,148.7 201.7,149.3 203.1,150.0 204.4,150.6 205.8,151.2 207.2,151.8 208.6,152.4 210.0,153.0" fill="none" stroke="none" marker-start="url(#m14)" marker-mid="url(#m14)" marker-end="url(#m14)"/>
<polyline points="67.4,31.0 67.5,33.5 67.7,36.0 68.0,38.5 68.4,41.0 69.0,43.5 70.3,43.9 71.7,45.8 73.1,48.1 74.5,50.5 75.9,53.1 77.3,55.6 78.6,58.0 80.0,60.4 81.4,62.7 82.8,64.9 84.2,67.1 85.6,69.3 86.9,71.5 88.3,73.7 89.7,76.0 91.1,78.2 92.5,80.2 93.9,82.2 95.2,83.9 96.6,85.5 98.0,87.1 99.4,88.6 100.8,90.0 102.1,91.4 103.5,92.7 104.9,94.0 106.3,95.3 107.7,96.5 109.1,97.7 110.4,98.8 111.8,100.0 113.2,101.1 114.6,102.2 116.0,103.3 117.4,104.3 118.7,105.4 120.1,106.4 121.5,107.4 122.9,108.4 124.3,109.3 125.6,110.2 127.0,111.2 128.4,112.1 129.8,112.9 131.2,113.8 132.6,114.6 133.9,115.4 135.3,116.2 136.7,117.0 138.1,117.7 139.5,118.5 140.9,119.2 142.2,119.9 143.6,120.7 145.0,121.4 146.4,122.1 147.8,122.9 149.2,123.6 150.5,124.3 151.9,125.1 153.3,125.8 154.7,126.5 156.1,127.3 157.4,128.0 158.8,128.7 160.2,129.4 161.6,130.1 163.0,130.8 164.4,131.5 165.7,132.2 167.1,132.9 168.5,133.6 169.9,134.3 171.3,135.0 172.7,135.7 174.0,136.4 175.4,137.0 176.8,137.7" fill="none" stroke="none" marker-start="url(#m15)" marker-mid="url(#m15)" marker-end="url(#m15)"/>
<polyline points="241.8,163.6 243.2,163.5 244.5,163.7 245.9,164.2 247.3,164.9 248.7,165.5 250.1,166.0 251.5,166.4 252.8,166.8 254.2,167.2 255.6,167.6 257.0,167.9 258.4,168.2 259.8,168.6 261.1,168.9 262.5,169.2 263.9,169.5 265.3,169.9 266.7,170.2 268.0,170.5 269.4,170.9 270.8,171.2 272.2,171.6 273.6,171.9 275.0,172.2 276.3,172.6 277.7,172.9 279.1,173.3 280.5,173.6 281.9,174.0 283.3,174.3 284.6,174.7 286.0,175.0 287.4,175.4 288.8,175.7" fill="none" stroke="none" marker-start="url(#m14)" marker-mid="url(#m14)" marker-end="url(#m14)"/>
<polyline points="280.3,178.4 280.3,178.4" fill="none" stroke="none" marker-start="url(#m16)"/>
<polyline points="67.3,30.2 67.6,33.4 68.2,37.2" fill="none" stroke="none" marker-start="url(#m17)" marker-mid="url(#m17)" marker-end="url(#m17)"/>
<polyline points="141.5,28.5 215.0,52.0 255.4,64.2" fill="none" stroke="none" marker-start="url(#m18)" marker-mid="url(#m18)" marker-end="url(#m18)"/>
<polyline points="141.5,33.0 141.5,36.5 215.0,57.5 215.0,61.0 255.4,76.0 262.5,76.0" fill="none" stroke="none" marker-start="url(#m19)" marker-mid="url(#m19)" marker-end="url(#m19)"/>
<polyline points="78.5,110.0 208.0,83.6" fill="none" stroke="none" marker-start="url(#m20)" marker-mid="url(#m20)" marker-end="url(#m20)"/>
<polyline points="213.6,95.4 213.6,95.4" fill="none" stroke="none" marker-start="url(#m21)"/>
</g>
<text x="66.2" y="207" font-size="9.3" text-anchor="middle" >0</text>
<text x="121.5" y="207" font-size="9.3" text-anchor="middle" >40</text>
<text x="176.8" y="207" font-size="9.3" text-anchor="middle" >80</text>
<text x="232.1" y="207" font-size="9.3" text-anchor="middle" >120</text>
<text x="287.4" y="207" font-size="9.3" text-anchor="middle" >160</text>
<text x="61.5" y="45.3" font-size="9.3" text-anchor="end" >1</text>
<text x="61.5" y="89.0" font-size="9.3" text-anchor="end" >0.95</text>
<text x="61.5" y="132.7" font-size="9.3" text-anchor="end" >0.9</text>
<text x="61.5" y="176.4" font-size="9.3" text-anchor="end" >0.85</text>
<text x="187.2" y="218.8" font-size="11.4" text-anchor="middle" textLength="76.2" lengthAdjust="spacingAndGlyphs" >Cycle Number</text>
<text x="35.3" y="104.5" font-size="11.3" text-anchor="middle" transform="rotate(-90 35.3 104.5)" textLength="111" lengthAdjust="spacingAndGlyphs" >Normalized Capacity</text>
<text x="39" y="20.1" font-size="7.3" text-anchor="middle" >A</text>
<rect x="331.8" y="15.3" width="220.99999999999994" height="178.7" fill="none" stroke="#111" stroke-width="1.3"/>
<path d="M387.1 194.0v-4M442.3 194.0v-4M497.6 194.0v-4" stroke="#111" stroke-width="1.1" fill="none"/>
<path d="M359.4 194.0v-2.2M414.7 194.0v-2.2M470.0 194.0v-2.2M525.2 194.0v-2.2" stroke="#111" stroke-width="1.1" fill="none"/>
<path d="M331.8 183.0h4M331.8 135.0h4M331.8 87.0h4M331.8 39.0h4" stroke="#111" stroke-width="1.1" fill="none"/>
<path d="M331.8 159.0h2.2M331.8 111.0h2.2M331.8 63.0h2.2" stroke="#111" stroke-width="1.1" fill="none"/>
<g id="plotB">
<polyline points="331.8,183.0 333.2,182.8 334.6,182.7 335.9,182.7 337.3,182.4 338.7,182.4 340.1,182.1 341.5,181.7 342.9,181.9 344.2,181.8 345.6,181.5 347.0,181.4 348.4,181.3 349.8,181.3 351.1,181.1 352.5,180.9 353.9,181.1 355.3,180.9 356.7,181.0 358.0,180.9 359.4,180.9 360.8,180.6 362.2,180.7 363.6,180.4 365.0,180.4 366.3,180.4 367.7,180.8 369.1,180.4 370.5,180.3 371.9,180.2 373.2,180.5 374.6,180.3 376.0,180.3 377.4,180.3 378.8,179.9 380.2,180.2 381.5,180.0 382.9,179.9 384.3,180.1 385.7,179.9 387.1,179.9 388.4,179.8 389.8,180.0 391.2,179.7 392.6,179.5 394.0,179.9 395.3,179.4 396.7,179.5 398.1,179.6 399.5,179.1 400.9,179.2 402.3,179.5 403.6,179.2 405.0,179.1 406.4,179.1 407.8,178.9 409.2,179.0 410.5,178.8 411.9,178.6 413.3,178.9 414.7,178.6 416.1,178.7 417.5,178.5 418.8,178.6 420.2,178.4 421.6,178.2 423.0,177.9 424.4,177.8 425.7,178.1 427.1,177.8 428.5,177.5 429.9,177.8 431.3,177.4 432.6,177.2 434.0,176.8 435.4,176.8 436.8,176.8 438.2,176.7 439.6,176.6 440.9,176.1 442.3,176.4 443.7,176.2 445.1,176.0 446.5,175.9 447.8,175.8 449.2,175.8 450.6,175.5 452.0,175.5 453.4,175.1 454.8,175.0 456.1,175.0 457.5,174.7 458.9,174.8 460.3,174.4 461.7,174.5 463.0,174.3 464.4,174.5 465.8,174.1 467.2,174.3 468.6,174.3 470.0,173.9 471.3,173.9 472.7,173.7 474.1,173.3 475.5,173.7 476.9,173.6 478.2,173.4 479.6,173.3 481.0,173.3 482.4,173.2 483.8,173.0 485.1,173.0 486.5,173.2 487.9,172.9 489.3,172.9 490.7,173.0 492.1,172.7 493.4,172.9 494.8,172.5 496.2,172.6 497.6,172.6 499.0,172.6 500.3,172.5 501.7,172.8" fill="none" stroke="none" marker-start="url(#m0)" marker-mid="url(#m0)" marker-end="url(#m0)"/>
<polyline points="413.5,184.0 413.5,184.0" fill="none" stroke="none" marker-start="url(#m22)"/>
<polyline points="331.8,185.9 333.2,185.7 334.6,187.1 335.9,186.2 337.3,187.6 338.7,186.8 340.1,187.7 341.5,187.2 342.9,187.6 344.2,188.4 345.6,187.3 347.0,187.2 348.4,187.8 349.8,187.8 351.1,187.6 352.5,187.8 353.9,186.8 355.3,187.4 356.7,187.0 358.0,187.1 359.4,186.9 360.8,186.9 362.2,185.6 363.6,185.9 365.0,185.0 366.3,185.0 367.7,184.9 369.1,184.3 370.5,184.0 371.9,183.4 373.2,183.2 374.6,182.8 376.0,182.9 377.4,182.3 378.8,180.9 380.2,181.5 381.5,181.4 382.9,180.4 384.3,179.6 385.7,180.5 387.1,179.6 388.4,179.5 389.8,179.6 391.2,178.2 392.6,178.1 394.0,177.7 395.3,177.7 396.7,176.8 398.1,176.8 399.5,176.3 400.9,176.3 402.3,175.9 403.6,174.4 405.0,174.7 406.4,174.0 407.8,173.6 409.2,173.4 410.5,172.9 411.9,172.0 413.3,171.9 414.7,171.3 416.1,170.8 417.5,169.8 418.8,169.5 420.2,169.1 421.6,169.0 423.0,168.9 424.4,167.3 425.7,166.8 427.1,166.8 428.5,166.0 429.9,165.3 431.3,164.8 432.6,164.1 434.0,164.1 435.4,162.7 436.8,163.2 438.2,161.7 439.6,161.3 440.9,160.5 442.3,159.5 443.7,159.1 445.1,159.7 446.5,159.4 447.8,157.9 449.2,158.2 450.6,157.4 452.0,156.7 453.4,157.5 454.8,157.4 456.1,156.1 457.5,155.9 458.9,155.8 460.3,155.4 461.7,155.6 463.0,155.6 464.4,154.8 465.8,154.8 467.2,154.8 468.6,153.6 470.0,153.5 471.3,152.9 472.7,153.1 474.1,152.6 475.5,152.3 476.9,151.8 478.2,150.8 479.6,150.7 481.0,149.7 482.4,149.2 483.8,148.0 485.1,148.9 486.5,147.4 487.9,147.3 489.3,146.7 490.7,146.7 492.1,145.7 493.4,144.6 494.8,144.3 496.2,143.6 497.6,143.1 499.0,141.8 500.3,141.7 501.7,142.0 503.1,140.8 504.5,140.7 505.9,140.7 507.3,138.9 508.6,137.5 510.0,137.4 511.4,137.3 512.8,136.6 514.2,135.1 515.5,134.9 516.9,134.4 518.3,133.8 519.7,133.2 521.1,132.3 522.4,131.9 523.8,131.5 525.2,131.5 526.6,130.3 528.0,130.3 529.4,129.0 530.7,129.5 532.1,128.5 533.5,127.9 534.9,128.0 536.3,126.2 537.6,125.8 539.0,126.1 540.4,125.0 541.8,124.7 543.2,125.4 544.6,123.7 545.9,123.3 547.3,122.7 548.7,122.7 550.1,121.8 551.5,121.3 552.8,120.2 554.2,120.0" fill="none" stroke="none" marker-start="url(#m9)" marker-mid="url(#m9)" marker-end="url(#m9)"/>
<polyline points="331.8,183.0 333.2,182.7 334.6,183.1 335.9,183.0 337.3,183.1 338.7,182.5 340.1,182.5 341.5,182.4 342.9,182.3 344.2,182.2 345.6,182.1 347.0,182.0 348.4,181.8 349.8,181.6 351.1,181.1 352.5,181.1 353.9,181.0 355.3,180.9 356.7,180.7 358.0,180.1 359.4,180.0 360.8,179.9 362.2,179.7 363.6,179.5 365.0,178.9 366.3,178.4 367.7,178.2 369.1,177.7 370.5,177.2 371.9,176.7 373.2,176.4 374.6,175.7 376.0,175.3 377.4,174.5 378.8,174.2 380.2,173.4 381.5,172.7 382.9,172.5 384.3,172.1 385.7,171.4 387.1,171.0 388.4,170.7 389.8,170.0 391.2,169.2 392.6,169.2 394.0,168.7 395.3,168.3 396.7,167.6 398.1,167.4 399.5,166.9 400.9,166.0 402.3,165.9 403.6,165.1 405.0,164.5 406.4,164.3 407.8,163.7 409.2,163.0 410.5,162.9 411.9,162.5 413.3,162.1 414.7,161.4 416.1,160.7 417.5,160.3 418.8,160.1 420.2,159.6 421.6,159.1 423.0,158.5 424.4,158.1 425.7,157.5 427.1,157.0 428.5,156.7 429.9,156.1 431.3,155.6 432.6,155.2 434.0,154.6 435.4,153.9 436.8,153.6 438.2,153.2 439.6,153.0 440.9,152.2 442.3,152.1 443.7,151.6 445.1,150.7 446.5,150.2 447.8,149.9 449.2,149.7 450.6,149.0 452.0,148.6 453.4,147.9 454.8,147.1 456.1,147.0 457.5,146.7 458.9,146.3 460.3,145.6 461.7,145.2 463.0,144.8 464.4,144.1 465.8,143.9 467.2,143.0 468.6,142.5 470.0,142.0 471.3,141.8 472.7,141.1 474.1,140.7 475.5,140.2 476.9,139.7 478.2,139.3 479.6,138.8" fill="none" stroke="none" marker-start="url(#m10)" marker-mid="url(#m10)" marker-end="url(#m10)"/>
<polyline points="331.8,182.9 333.2,182.8 334.6,182.6 335.9,182.2 337.3,182.5 338.7,182.1 340.1,181.7 341.5,181.4 342.9,181.2 344.2,180.7 345.6,180.6 347.0,180.5 348.4,180.1 349.8,179.5 351.1,179.2 352.5,179.3 353.9,178.3 355.3,178.1 356.7,177.6 358.0,177.5 359.4,177.0 360.8,176.8 362.2,175.7 363.6,175.8 365.0,175.0 366.3,174.9 367.7,174.3 369.1,174.1 370.5,173.4 371.9,172.7 373.2,172.6 374.6,171.7 376.0,171.3 377.4,171.0 378.8,170.4 380.2,169.9 381.5,169.3 382.9,168.9 384.3,168.4 385.7,167.8 387.1,167.4 388.4,166.9 389.8,166.2 391.2,165.5 392.6,165.4 394.0,164.7 395.3,164.3 396.7,163.9 398.1,163.1 399.5,162.9 400.9,162.1 402.3,162.0 403.6,161.4 405.0,161.0 406.4,160.7 407.8,160.1 409.2,159.8 410.5,159.2 411.9,158.9 413.3,158.7 414.7,158.1 416.1,157.7 417.5,157.1 418.8,157.0 420.2,156.5 421.6,156.4 423.0,155.6 424.4,155.5 425.7,155.2 427.1,154.5 428.5,153.9 429.9,153.9 431.3,153.5 432.6,153.0 434.0,152.7 435.4,152.0 436.8,151.8 438.2,151.4 439.6,150.7 440.9,150.5 442.3,149.9 443.7,149.7 445.1,149.3 446.5,149.0 447.8,147.9 449.2,147.8 450.6,147.3 452.0,146.8 453.4,146.3 454.8,145.9 456.1,145.1 457.5,145.1 458.9,144.8 460.3,144.2 461.7,143.8 463.0,142.9 464.4,142.4 465.8,142.2 467.2,141.7 468.6,141.0 470.0,140.2 471.3,140.4 472.7,139.3 474.1,138.9 475.5,138.0 476.9,137.8 478.2,136.9 479.6,134.8" fill="none" stroke="none" marker-start="url(#m23)" marker-mid="url(#m23)" marker-end="url(#m23)"/>
<polyline points="481.0,132.0 482.4,130.7 483.8,131.1 485.1,131.9 486.5,132.5 487.9,132.9 489.3,132.6 490.7,132.3 492.1,132.0 493.4,131.6 494.8,131.2 496.2,130.5 497.6,129.9 499.0,129.0 500.3,128.3 501.7,128.0 503.1,127.6 504.5,126.9 505.9,126.5 507.3,126.1 508.6,125.4 510.0,125.1 511.4,124.3 512.8,123.9 514.2,123.3 515.5,122.9 516.9,122.4 518.3,121.9 519.7,121.3" fill="none" stroke="none" marker-start="url(#m24)" marker-mid="url(#m24)" marker-end="url(#m24)"/>
<polyline points="521.1,115.8 521.1,115.8" fill="none" stroke="none" marker-start="url(#m18)"/>
<polyline points="331.8,183.1 333.2,182.3 334.6,181.7 335.9,181.2 337.3,180.2 338.7,179.8 340.1,178.9 341.5,178.1 342.9,177.7 344.2,176.6 345.6,175.8 347.0,175.0 348.4,174.3 349.8,173.5 351.1,172.7 352.5,171.8 353.9,170.9 355.3,170.0 356.7,169.3 358.0,168.2 359.4,167.4 360.8,166.6 362.2,165.7 363.6,164.7 365.0,164.2 366.3,163.0 367.7,162.1 369.1,161.2 370.5,160.3 371.9,159.6 373.2,158.6 374.6,157.6 376.0,156.7 377.4,155.8 378.8,155.2 380.2,153.9 381.5,152.9 382.9,152.0 384.3,151.2 385.7,150.5 387.1,149.1 388.4,148.3 389.8,147.8 391.2,146.3 392.6,145.6 394.0,144.6 395.3,143.5 396.7,142.2 398.1,141.5 399.5,140.4 400.9,139.2 402.3,138.2 403.6,137.5 405.0,136.5 406.4,135.7 407.8,134.6 409.2,133.5 410.5,132.5 411.9,131.6 413.3,130.5 414.7,129.9 416.1,128.9 417.5,127.8 418.8,127.0 420.2,126.0 421.6,125.2 423.0,124.5 424.4,123.5 425.7,122.9 427.1,122.1 428.5,120.9 429.9,120.2 431.3,119.3 432.6,118.8 434.0,117.7 435.4,116.9 436.8,116.1 438.2,115.5 439.6,114.3 440.9,113.3 442.3,112.5 443.7,111.8 445.1,110.9 446.5,109.9 447.8,109.6 449.2,108.4 450.6,107.4 452.0,106.5 453.4,105.5 454.8,104.8 456.1,104.1 457.5,103.3 458.9,102.3 460.3,101.7 461.7,100.8 463.0,99.8 464.4,98.8 465.8,98.4 467.2,97.5 468.6,96.7 470.0,95.7 471.3,95.1 472.7,94.0 474.1,93.6 475.5,92.6 476.9,91.8 478.2,90.9 479.6,90.1 481.0,89.7 482.4,88.9 483.8,87.9 485.1,87.4 486.5,86.8 487.9,85.6 489.3,85.0 490.7,84.3 492.1,83.8 493.4,82.8 494.8,82.4 496.2,81.5 497.6,81.2 499.0,80.5 500.3,79.7 501.7,79.2 503.1,78.3 504.5,77.7 505.9,77.3 507.3,76.5 508.6,75.9 510.0,75.1 511.4,74.7 512.8,74.1 514.2,73.2 515.5,72.5 516.9,71.9 518.3,71.7" fill="none" stroke="none" marker-start="url(#m25)" marker-mid="url(#m25)" marker-end="url(#m25)"/>
<polyline points="337.3,179.5 338.7,178.5 340.1,177.9 341.5,177.1 342.9,176.1 344.2,175.2 345.6,174.5 347.0,173.8 348.4,172.9 349.8,171.6 351.1,171.0 352.5,170.0 353.9,169.1 355.3,168.1 356.7,167.4 358.0,166.3 359.4,165.6 360.8,164.6 362.2,163.8 363.6,162.5 365.0,161.8 366.3,161.0 367.7,160.0 369.1,159.0 370.5,157.9 371.9,157.3 373.2,156.3 374.6,155.2 376.0,153.7 377.4,153.0 378.8,152.2 380.2,151.1 381.5,149.9 382.9,149.2 384.3,148.2 385.7,146.9 387.1,145.9 388.4,144.8 389.8,144.0 391.2,142.5 392.6,141.4 394.0,140.6 395.3,139.5 396.7,138.9 398.1,137.5 399.5,136.6 400.9,135.6 402.3,134.6 403.6,133.8 405.0,133.1 406.4,131.9 407.8,131.1 409.2,130.2 410.5,129.3 411.9,128.4 413.3,127.9 414.7,126.4 416.1,125.7 417.5,124.7 418.8,123.8 420.2,123.2 421.6,122.7 423.0,121.7 424.4,120.9 425.7,120.0 427.1,119.0 428.5,118.5 429.9,117.3 431.3,116.7 432.6,115.6 434.0,114.8 435.4,114.0 436.8,113.1 438.2,112.2 439.6,111.4 440.9,110.7 442.3,109.5 443.7,108.2 445.1,107.3 446.5,106.4 447.8,105.6 449.2,104.9 450.6,103.6 452.0,102.9 453.4,102.0 454.8,101.1 456.1,100.2 457.5,99.4 458.9,98.5 460.3,97.9 461.7,96.9 463.0,95.7 464.4,95.3 465.8,94.5 467.2,93.6 468.6,92.9 470.0,92.4 471.3,91.5 472.7,90.6 474.1,90.0 475.5,89.3 476.9,88.4" fill="none" stroke="none" marker-start="url(#m4)" marker-mid="url(#m4)" marker-end="url(#m4)"/>
<polyline points="331.8,183.1 333.2,181.7 334.6,180.6 335.9,179.0 337.3,178.4 338.7,177.0 340.1,175.7 341.5,174.4 342.9,173.2 344.2,171.9 345.6,171.3 347.0,169.8 348.4,168.8 349.8,167.8 351.1,166.5 352.5,165.7 353.9,164.9 355.3,163.5 356.7,162.6 358.0,161.4 359.4,160.1 360.8,159.0 362.2,157.7 363.6,156.9 365.0,156.0 366.3,154.8 367.7,153.7 369.1,152.6 370.5,151.2 371.9,150.2 373.2,149.3 374.6,147.7 376.0,146.7 377.4,145.5 378.8,144.4 380.2,143.1 381.5,142.1 382.9,140.7 384.3,139.7 385.7,138.5 387.1,137.3 388.4,136.4 389.8,135.0 391.2,133.8 392.6,132.5 394.0,131.5 395.3,129.7 396.7,128.8 398.1,127.8 399.5,126.7 400.9,125.4 402.3,124.3 403.6,123.3 405.0,122.2 406.4,121.3 407.8,120.1 409.2,119.3 410.5,118.2 411.9,117.0 413.3,115.7 414.7,115.2 416.1,114.1 417.5,113.1 418.8,111.7 420.2,110.9 421.6,109.7 423.0,108.5 424.4,107.6 425.7,106.5 427.1,105.3 428.5,104.5 429.9,103.3 431.3,102.1 432.6,101.0 434.0,100.0 435.4,99.3 436.8,98.1 438.2,96.8 439.6,95.9 440.9,95.0 442.3,94.1 443.7,92.9 445.1,92.1 446.5,91.1 447.8,90.0 449.2,88.6 450.6,87.7 452.0,86.4 453.4,85.6 454.8,84.1 456.1,83.2 457.5,82.0 458.9,80.5 460.3,79.7 461.7,78.9 463.0,77.9 464.4,76.9 465.8,75.9 467.2,75.3 468.6,74.7 470.0,73.6 471.3,72.6 472.7,71.7 474.1,70.7 475.5,69.9 476.9,68.9 478.2,68.2 479.6,66.9 481.0,65.7 482.4,64.9 483.8,63.9 485.1,62.9 486.5,61.5 487.9,60.9 489.3,59.7 490.7,58.5 492.1,57.4" fill="none" stroke="none" marker-start="url(#m26)" marker-mid="url(#m26)" marker-end="url(#m26)"/>
<polyline points="331.8,183.1 332.5,182.3 333.2,181.8 333.9,181.1 334.6,180.5 335.3,180.1 335.9,179.3 336.6,178.5 337.3,178.2 338.0,177.5 338.7,176.7 339.4,176.4 340.1,175.6 340.8,175.2 341.5,174.3 342.2,173.5 342.9,173.0 343.5,172.8 344.2,172.0 344.9,171.5 345.6,171.0 346.3,170.2 347.0,170.1 347.7,169.1 348.4,168.8 349.1,168.0 349.8,167.7 350.5,167.3 351.1,166.6 351.8,166.0 352.5,165.6 353.2,164.9 353.9,164.6 354.6,164.3 355.3,163.3 356.0,162.8 356.7,162.4 357.4,161.8 358.0,161.1 358.7,160.8 359.4,160.3 360.1,159.7 360.8,158.9 361.5,158.8 362.2,157.8 362.9,157.5 363.6,157.1 364.3,156.1 365.0,155.8 365.6,155.4 366.3,154.7 367.0,153.9 367.7,153.3 368.4,153.0 369.1,152.3 369.8,151.7 370.5,151.4 371.2,150.6 371.9,150.1 372.6,149.6 373.2,149.1 373.9,148.4 374.6,147.8 375.3,147.4 376.0,146.8 376.7,145.9 377.4,145.5 378.1,144.8 378.8,144.2 379.5,143.7 380.2,142.9 380.8,142.8 381.5,141.9 382.2,141.6 382.9,140.6 383.6,140.0 384.3,140.1 385.0,139.3 385.7,138.5 386.4,137.9 387.1,137.3 387.8,136.8 388.4,136.1 389.1,135.5 389.8,135.0 390.5,134.2 391.2,134.1 391.9,133.0 392.6,132.7 393.3,131.7 394.0,131.3 394.7,130.8 395.3,130.0 396.0,129.6 396.7,129.0 397.4,128.5 398.1,127.6 398.8,126.9 399.5,126.3 400.2,125.9 400.9,125.2 401.6,124.8 402.3,124.3 402.9,123.6 403.6,123.0 404.3,122.7 405.0,122.2 405.7,121.7 406.4,121.2 407.1,120.8 407.8,120.0 408.5,119.7 409.2,119.1 409.9,118.8 410.5,118.1 411.2,117.6 411.9,117.2 412.6,116.3 413.3,116.1 414.0,115.3 414.7,114.9 415.4,114.7 416.1,114.1 416.8,113.4 417.5,112.9 418.1,112.4 418.8,111.9 419.5,111.6 420.2,110.8 420.9,110.6 421.6,109.6 422.3,109.2 423.0,108.6 423.7,108.0 424.4,107.4 425.1,107.1 425.7,106.6 426.4,105.9 427.1,105.6 427.8,104.8 428.5,103.9 429.2,103.8 429.9,103.0 430.6,102.8 431.3,102.0 432.0,101.6 432.6,101.0 433.3,100.4 434.0,99.7 434.7,99.4 435.4,99.0 436.1,98.6 436.8,97.9 437.5,97.5 438.2,96.8 438.9,96.5 439.6,95.7 440.2,95.8 440.9,95.0 441.6,94.3 442.3,94.0 443.0,93.6 443.7,93.0 444.4,92.7 445.1,91.9 445.8,91.0 446.5,90.7 447.2,90.6 447.8,90.0 448.5,89.4 449.2,88.7 449.9,88.4 450.6,87.9 451.3,87.1 452.0,86.5 452.7,86.1 453.4,85.7 454.1,85.1 454.8,84.4 455.4,84.1 456.1,83.0 456.8,82.7 457.5,81.9 458.2,81.1 458.9,80.7 459.6,80.5 460.3,79.7 461.0,79.1 461.7,79.0 462.4,78.5 463.0,77.9 463.7,77.7 464.4,76.7 465.1,76.9 465.8,76.3 466.5,75.7 467.2,75.3 467.9,74.8 468.6,74.3 469.3,74.0 470.0,73.3 470.6,73.4 471.3,72.6 472.0,72.3 472.7,71.7 473.4,71.3 474.1,71.0 474.8,70.5 475.5,69.8 476.2,69.4 476.9,69.1 477.5,68.2 478.2,67.6 478.9,67.8 479.6,67.0 480.3,66.1 481.0,65.9 481.7,65.5 482.4,65.0 483.1,64.6 483.8,64.0 484.5,63.5 485.1,62.8 485.8,62.4 486.5,61.9 487.2,61.5 487.9,60.8 488.6,60.4 489.3,59.7 490.0,59.0 490.7,58.5 491.4,58.0 492.1,57.4" fill="none" stroke="none" marker-start="url(#m27)" marker-mid="url(#m27)" marker-end="url(#m27)"/>
<polyline points="331.8,183.0 333.2,180.5 334.6,178.3 335.9,176.1 337.3,174.7 338.7,172.7 340.1,171.4 341.5,170.0 342.9,168.5 344.2,167.2 345.6,165.7 347.0,164.6 348.4,163.0 349.8,162.2 351.1,161.4 352.5,160.1 353.9,159.3 355.3,158.0 356.7,156.9 358.0,156.1 359.4,155.6 360.8,154.7 362.2,153.4 363.6,152.8 365.0,152.0 366.3,150.9 367.7,149.7 369.1,149.0 370.5,148.3 371.9,147.3 373.2,146.3 374.6,145.5 376.0,144.7 377.4,143.5 378.8,142.7 380.2,141.7 381.5,140.7 382.9,139.4 384.3,139.0 385.7,138.0 387.1,137.2 388.4,136.2 389.8,135.3 391.2,134.7 392.6,134.0 394.0,133.4 395.3,132.5 396.7,131.5 398.1,130.8 399.5,130.3 400.9,129.4 402.3,128.6 403.6,127.8 405.0,127.3 406.4,126.5 407.8,126.0 409.2,125.2 410.5,124.0 411.9,123.8 413.3,122.8 414.7,121.9 416.1,121.3 417.5,120.6 418.8,119.7 420.2,118.9 421.6,118.2 423.0,117.7 424.4,116.6 425.7,116.0 427.1,115.2 428.5,114.3 429.9,113.4 431.3,112.6 432.6,112.1 434.0,111.1 435.4,110.3 436.8,109.5 438.2,108.7 439.6,108.3 440.9,107.5 442.3,106.6 443.7,106.2 445.1,105.2 446.5,104.6 447.8,103.9 449.2,103.4 450.6,102.5 452.0,101.6 453.4,100.7 454.8,100.0 456.1,99.5 457.5,98.7 458.9,98.1 460.3,97.1 461.7,96.5 463.0,95.6 464.4,94.6 465.8,94.1 467.2,93.6 468.6,92.8 470.0,92.2 471.3,91.5 472.7,90.4 474.1,89.8 475.5,89.2 476.9,87.9 478.2,86.6 479.6,85.3 481.0,82.6 482.4,80.9 483.8,80.2 485.1,79.6 486.5,79.1 487.9,78.7 489.3,78.5 490.7,78.2 492.1,78.1 493.4,78.3 494.8,77.8 496.2,77.5 497.6,77.3 499.0,76.7 500.3,76.4 501.7,75.9 503.1,74.9 504.5,74.3 505.9,73.6 507.3,72.6 508.6,71.7 510.0,70.8 511.4,70.2 512.8,68.8 514.2,67.7 515.5,66.6 516.9,65.2 518.3,63.8 519.7,62.8" fill="none" stroke="none" marker-start="url(#m7)" marker-mid="url(#m7)" marker-end="url(#m7)"/>
<polyline points="520.4,59.9 414.7,122.5" fill="none" stroke="none" marker-start="url(#m28)" marker-mid="url(#m28)" marker-end="url(#m28)"/>
<polyline points="331.8,190.4 333.2,182.7 334.6,176.3 335.9,171.2 337.3,168.0 338.7,165.7 340.1,163.9 341.5,161.7 342.9,160.0 344.2,158.4 345.6,156.6 347.0,154.9 348.4,153.6 349.8,152.1 351.1,150.7 352.5,148.9 353.9,148.2 355.3,146.7 356.7,145.7 358.0,144.6 359.4,143.3 360.8,142.1 362.2,141.0 363.6,140.1 365.0,139.2 366.3,138.2 367.7,137.0 369.1,136.0 370.5,134.9 371.9,134.0 373.2,133.0 374.6,131.9 376.0,131.2 377.4,130.5 378.8,129.5 380.2,128.5 381.5,127.1 382.9,126.5 384.3,125.2 385.7,124.4 387.1,123.2 388.4,122.3 389.8,121.6 391.2,120.6 392.6,119.6 394.0,118.6 395.3,117.8 396.7,116.7 398.1,115.5 399.5,115.0 400.9,113.7 402.3,112.9 403.6,111.8 405.0,110.7 406.4,109.8 407.8,108.7 409.2,108.1 410.5,106.7 411.9,106.0 413.3,104.7 414.7,103.8 416.1,103.2 417.5,101.8 418.8,100.6 420.2,99.3 421.6,98.3 423.0,97.2 424.4,96.2 425.7,94.4 427.1,93.0 428.5,91.9 429.9,90.5 431.3,89.4 432.6,87.5 434.0,85.9 435.4,84.9 436.8,83.5 438.2,82.4 439.6,81.5 440.9,80.0 442.3,79.4 443.7,78.3 445.1,77.3 446.5,76.2 447.8,75.4 449.2,74.5 450.6,73.8 452.0,73.1 453.4,72.0 454.8,71.3 456.1,70.6 457.5,69.7 458.9,68.8 460.3,68.2 461.7,67.3 463.0,66.6 464.4,65.5 465.8,64.7 467.2,63.7 468.6,63.5 470.0,62.6 471.3,61.6 472.7,60.9 474.1,60.1 475.5,58.8 476.9,58.2 478.2,57.3 479.6,56.3 481.0,54.9 482.4,53.9 483.8,53.0 485.1,51.8 486.5,50.4 487.9,49.3 489.3,48.3 490.7,46.9 492.1,45.7 493.4,44.9 494.8,43.5 496.2,42.2 497.6,41.2 499.0,40.3 500.3,38.8 501.7,37.5 503.1,36.2 504.5,35.7 505.9,33.7 507.3,33.2 508.6,31.7 510.0,30.5 511.4,29.3 512.8,28.3 514.2,27.3 515.5,25.9 516.9,24.9 518.3,24.0 519.7,21.9 521.1,21.1 522.4,19.7 523.8,19.0 525.2,17.4 526.6,16.2" fill="none" stroke="none" marker-start="url(#m29)" marker-mid="url(#m29)" marker-end="url(#m29)"/>
<polyline points="331.8,182.8 333.2,182.6 334.6,182.4 335.9,181.9 337.3,181.7 338.7,181.3 340.1,180.7 341.5,180.5 342.9,180.0 344.2,179.6 345.6,179.0 347.0,178.7 348.4,178.5 349.8,178.0 351.1,177.9 352.5,177.5 353.9,177.0 355.3,176.9 356.7,176.5 358.0,176.3 359.4,175.8 360.8,175.3 362.2,175.2 363.6,174.8 365.0,174.6 366.3,174.3 367.7,174.1 369.1,173.4 370.5,173.0 371.9,172.9 373.2,172.8 374.6,172.3 376.0,172.2 377.4,171.7 378.8,171.5 380.2,171.2 381.5,170.9 382.9,170.7 384.3,170.4 385.7,170.3 387.1,169.9 388.4,169.7 389.8,169.2 391.2,169.0 392.6,168.6 394.0,168.3 395.3,168.2 396.7,167.9 398.1,167.6 399.5,167.1 400.9,166.7 402.3,166.5 403.6,166.4 405.0,165.9 406.4,166.0 407.8,165.3 409.2,165.3 410.5,165.3 411.9,164.4 413.3,164.3 414.7,164.4 416.1,164.0 417.5,163.8 418.8,163.5 420.2,163.5 421.6,163.1 423.0,162.7 424.4,162.5 425.7,162.1 427.1,162.0 428.5,161.4 429.9,161.6 431.3,161.2 432.6,161.3 434.0,161.0 435.4,160.5 436.8,160.6 438.2,160.3 439.6,160.2 440.9,160.2 442.3,160.1 443.7,160.0 445.1,160.0 446.5,160.5 447.8,161.3 449.2,161.9 450.6,162.4 452.0,162.7 453.4,163.0 454.8,163.1 456.1,163.0 457.5,163.2 458.9,163.3 460.3,163.3 461.7,163.4 463.0,163.4 464.4,163.4 465.8,163.4 467.2,163.4 468.6,163.2 470.0,163.4 471.3,163.3 472.7,163.5 474.1,163.1 475.5,163.3 476.9,163.1 478.2,163.2 479.6,163.1" fill="none" stroke="none" marker-start="url(#m14)" marker-mid="url(#m14)" marker-end="url(#m14)"/>
<polyline points="481.0,160.0 482.4,159.3 483.8,158.5 485.1,158.6 486.5,158.0 487.9,157.7 489.3,157.6 490.7,157.4 492.1,157.2 493.4,157.3 494.8,157.0 496.2,156.9 497.6,156.7 499.0,156.4 500.3,156.1 501.7,155.8 503.1,155.5 504.5,155.4 505.9,154.7 507.3,154.5 508.6,154.3 510.0,154.2 511.4,153.9 512.8,153.5 514.2,153.3 515.5,153.3 516.9,152.7 518.3,152.2 519.7,152.5 521.1,151.9 522.4,151.8 523.8,151.6 525.2,151.2 526.6,151.2 528.0,150.8 529.4,150.4 530.7,150.4 532.1,150.2 533.5,149.9 534.9,149.7 536.3,149.2 537.6,149.3 539.0,148.9 540.4,148.9 541.8,148.5 543.2,148.3 544.6,148.4 545.9,147.9 547.3,147.8 548.7,147.5 550.1,147.1 551.5,147.2 552.8,147.0 554.2,146.5" fill="none" stroke="none" marker-start="url(#m30)" marker-mid="url(#m30)" marker-end="url(#m30)"/>
<polyline points="331.8,183.0 333.2,182.4 334.6,182.2 335.9,182.0 337.3,181.5 338.7,180.9 340.1,180.6 341.5,180.3 342.9,180.0 344.2,179.6 345.6,179.3 347.0,178.6 348.4,178.5 349.8,178.3 351.1,177.9 352.5,177.4 353.9,177.1 355.3,176.8 356.7,176.5 358.0,176.1 359.4,176.0 360.8,175.6 362.2,175.1 363.6,174.9 365.0,174.5 366.3,174.1 367.7,173.8 369.1,173.6 370.5,173.0 371.9,172.9 373.2,172.7 374.6,172.3 376.0,172.1 377.4,171.9 378.8,171.5 380.2,171.3 381.5,171.2 382.9,170.7 384.3,170.4 385.7,170.1 387.1,170.0 388.4,169.6 389.8,169.2 391.2,168.9 392.6,168.8 394.0,168.3 395.3,168.2 396.7,167.8 398.1,167.3 399.5,167.3 400.9,167.0 402.3,166.5 403.6,166.4 405.0,166.1 406.4,165.8 407.8,165.4 409.2,165.5 410.5,165.1 411.9,164.9 413.3,164.6 414.7,164.4 416.1,164.2 417.5,163.8 418.8,163.7 420.2,163.4 421.6,163.1 423.0,163.0 424.4,162.7 425.7,162.3 427.1,162.3 428.5,162.2 429.9,161.9 431.3,161.8 432.6,161.5 434.0,161.2 435.4,161.2 436.8,161.0 438.2,160.7 439.6,160.7 440.9,160.4 442.3,160.4 443.7,160.2 445.1,160.0" fill="none" stroke="none" marker-start="url(#m15)" marker-mid="url(#m15)" marker-end="url(#m15)"/>
<polyline points="442.3,150.1 481.0,148.7 479.6,173.4 333.4,174.4" fill="none" stroke="none" marker-start="url(#m31)" marker-mid="url(#m31)" marker-end="url(#m31)"/>
</g>
<text x="331.8" y="207" font-size="9.3" text-anchor="middle" >0</text>
<text x="387.1" y="207" font-size="9.3" text-anchor="middle" >40</text>
<text x="442.3" y="207" font-size="9.3" text-anchor="middle" >80</text>
<text x="497.6" y="207" font-size="9.3" text-anchor="middle" >120</text>
<text x="552.8" y="207" font-size="9.3" text-anchor="middle" >160</text>
<text x="326.5" y="186.3" font-size="9.3" text-anchor="end" >0</text>
<text x="326.5" y="138.3" font-size="9.3" text-anchor="end" >20</text>
<text x="326.5" y="90.3" font-size="9.3" text-anchor="end" >40</text>
<text x="326.5" y="42.3" font-size="9.3" text-anchor="end" >60</text>
<text x="453.2" y="218.8" font-size="11.4" text-anchor="middle" textLength="76.2" lengthAdjust="spacingAndGlyphs" >Cycle Number</text>
<text x="308.4" y="162.3" font-size="11.8" text-anchor="start" transform="rotate(-90 308.4 162.3)" textLength="133.5" lengthAdjust="spacingAndGlyphs">Average Pressure (PSI)</text>
<text x="308" y="170.6" font-size="7.2" text-anchor="start" transform="rotate(-90 308 170.6)" font-family="DejaVu Sans, sans-serif">△</text>
<text x="307.6" y="20.2" font-size="7.3" text-anchor="middle" >B</text>
<rect x="66.0" y="229.3" width="221.3" height="179.2" fill="none" stroke="#111" stroke-width="1.3"/>
<path d="M121.5 408.5v-4M176.8 408.5v-4M232.1 408.5v-4" stroke="#111" stroke-width="1.1" fill="none"/>
<path d="M93.9 408.5v-2.2M149.2 408.5v-2.2M204.4 408.5v-2.2M259.8 408.5v-2.2" stroke="#111" stroke-width="1.1" fill="none"/>
<path d="M66.0 382.5h4M66.0 321.7h4M66.0 260.9h4" stroke="#111" stroke-width="1.1" fill="none"/>
<path d="M66.0 352.1h2.2M66.0 291.3h2.2M66.0 230.5h2.2" stroke="#111" stroke-width="1.1" fill="none"/>
<clipPath id="clipC"><rect x="64" y="226" width="228" height="184"/></clipPath>
<g id="plotC" clip-path="url(#clipC)">
<polyline points="98.0,403.2 99.7,397.1 101.4,396.8 103.1,396.8 104.8,397.8 106.5,399.9 108.2,398.8 109.9,403.4 111.6,399.0 113.3,402.0 115.0,399.3 116.7,400.1 118.4,395.2 120.1,398.5 121.8,398.7 123.5,398.3 125.2,393.8 126.9,401.1 128.6,398.1 130.3,398.1 132.0,398.6 133.7,398.7 135.4,400.3 137.1,396.3 138.8,397.2 140.5,400.2 142.2,399.9 143.9,398.7 145.6,398.3 147.3,397.7 149.0,399.6 150.7,402.7 152.4,397.3 154.1,403.6 155.8,402.0 157.5,399.0 159.2,402.0 160.9,396.7 162.6,396.1 164.3,397.2 166.0,399.4 167.7,399.6 169.4,399.2 171.1,400.7 172.8,395.2 174.5,401.4 176.2,396.7 177.9,398.4 179.6,398.9 181.3,397.1 183.0,396.4 184.7,397.2 186.4,399.5 188.1,400.8 189.8,400.7 191.5,396.8 193.2,397.2 194.9,396.8 196.6,400.0 198.3,393.9 200.0,401.7 201.7,397.4 203.4,396.6 205.1,399.2 206.8,400.8 208.5,399.0 210.2,400.6 211.9,398.3 213.6,400.8 215.3,400.8 217.0,397.5 218.7,401.0 220.4,397.9 222.1,397.6 223.8,395.1 225.5,396.5 227.2,399.0 228.9,393.8 230.6,398.4 232.3,397.6 234.0,397.3 235.7,391.3" fill="none" stroke="none" marker-start="url(#m32)" marker-mid="url(#m32)" marker-end="url(#m32)"/>
<polyline points="70.0,383.0 72.0,390.0 95.0,405.0 104.0,392.0 209.0,392.0 236.0,390.8 84.0,395.0 78.0,400.0 90.0,391.0 120.0,389.5 139.0,392.0 160.0,405.0 96.0,386.0" fill="none" stroke="none" marker-start="url(#m32)" marker-mid="url(#m32)" marker-end="url(#m32)"/>
<polyline points="66.5,245.1 67.9,247.5 69.3,254.4 70.6,257.2 72.0,255.3 73.4,255.0 74.8,259.5 76.2,264.5 77.6,264.1 78.9,264.7 80.3,261.3 81.7,261.8 83.1,259.3 84.5,258.6 85.9,261.8 87.2,263.5 88.6,267.6 90.0,263.4 91.4,261.5 92.8,263.2 94.1,264.1 95.5,261.3 96.9,262.9 98.3,264.7 99.7,265.5 101.1,261.6 102.4,260.1 103.8,262.0 105.2,259.7 106.6,261.9 108.0,262.3 109.4,261.0 110.7,261.9 112.1,260.9 113.5,261.8 114.9,260.4 116.3,256.0 117.7,258.4 119.0,263.3 120.4,261.6 121.8,261.6 123.2,258.2 124.6,256.6 125.9,258.7 127.3,259.6 128.7,257.2 130.1,261.7 131.5,258.1 132.9,258.0 134.2,255.5 135.6,254.8 137.0,254.3 138.4,254.8 139.8,255.2 141.2,250.2 142.5,254.3 143.9,255.4 145.3,254.7 146.7,256.7 148.1,254.7 149.4,251.5 150.8,256.1 152.2,251.0 153.6,251.9 155.0,251.0 156.4,252.1 157.7,253.2 159.1,254.6 160.5,250.9 161.9,253.0 163.3,249.1 164.7,248.8 166.0,251.5 167.4,248.0 168.8,251.9 170.2,254.5 171.6,250.8 173.0,248.1 174.3,249.8 175.7,246.0 177.1,248.9 178.5,248.2 179.9,244.6 181.2,243.8 182.6,244.3 184.0,248.3 185.4,245.9 186.8,247.6 188.2,242.7 189.5,244.5 190.9,243.7 192.3,243.2 193.7,243.3 195.1,240.1 196.5,242.3 197.8,245.2 199.2,243.5 200.6,241.5 202.0,240.9 203.4,242.4 204.7,239.4 206.1,240.1 207.5,240.8 208.9,244.8 210.3,244.9 211.7,241.1 213.0,239.1 214.4,241.7 215.8,239.7 217.2,240.2 218.6,237.6 220.0,238.7 221.3,237.4 222.7,236.4 224.1,240.3 225.5,239.3 226.9,238.3 228.3,237.5" fill="none" stroke="none" marker-start="url(#m33)" marker-mid="url(#m33)" marker-end="url(#m33)"/>
<polyline points="185.0,259.7 187.9,257.1 190.8,259.0 193.7,256.0 196.6,256.6 199.5,254.5 202.4,253.6 205.3,255.5 208.2,251.9 211.1,250.0 214.0,249.9 216.9,249.6 219.8,251.8 222.7,248.7 225.6,248.8" fill="none" stroke="none" marker-start="url(#m33)" marker-mid="url(#m33)" marker-end="url(#m33)"/>
<polyline points="70.8,271.1 72.1,269.8 73.5,270.1 74.9,269.3 76.3,269.0 77.7,268.7 79.1,268.4 80.4,268.6 81.8,267.7 83.2,267.1 86.0,273.6 87.4,272.7 88.7,272.6 90.1,272.5 91.5,271.9 92.9,271.8 94.3,271.2 95.6,272.2 97.0,271.5 98.4,270.8 99.8,270.2 101.2,271.0 102.6,269.7 105.3,275.9 106.7,275.6 108.1,275.7 109.5,274.6 110.9,275.3 112.2,273.4 113.6,273.8 115.0,272.6 116.4,273.6 117.8,272.2 119.2,272.0 120.5,271.9 121.9,271.3 124.7,275.9 126.1,274.6 127.4,274.6 128.8,273.7 130.2,272.8 131.6,271.8 133.0,271.2 134.4,270.2 135.7,270.1 137.1,269.8 138.5,267.3 141.3,273.6 142.7,273.4 144.0,272.0 145.4,271.7 146.8,270.6 148.2,270.8 149.6,269.8 150.9,269.0 152.3,268.6 153.7,267.6 155.1,266.3 156.5,266.7 157.9,265.8 159.2,264.9 162.0,270.5 163.4,268.2 164.8,267.3 166.2,267.4 167.5,266.2 168.9,264.0 171.7,269.2 173.1,268.5 174.5,267.1 175.8,267.1 177.2,265.6 178.6,264.9 180.0,265.1 181.4,263.5 182.7,263.0 184.1,262.5 185.5,261.8 186.9,260.4 189.7,265.4 191.0,265.8 192.4,264.3 193.8,262.5 195.2,262.1 196.6,261.5 198.0,260.5 199.3,260.2 200.7,259.1 202.1,257.1 204.9,262.0 206.2,261.9 207.6,261.0 209.0,261.4 210.4,259.2 211.8,257.2 213.2,257.1 214.5,256.6 215.9,255.1 217.3,254.4 218.7,253.8 220.1,253.3 222.8,257.6 224.2,257.4 225.6,255.7 227.0,254.6 228.4,253.1 229.8,252.4 231.1,252.0 232.5,249.7 235.3,255.7 236.7,254.2 238.0,253.4 239.4,251.7 240.8,251.9 242.2,250.8 243.6,249.3 245.0,247.3 246.3,246.6 247.7,246.6 250.5,251.4 251.9,251.0 253.3,249.1 254.6,248.5 256.0,247.6" fill="none" stroke="none" marker-start="url(#m34)" marker-mid="url(#m34)" marker-end="url(#m34)"/>
<polyline points="68.0,282.2 69.4,282.1 70.8,282.9 72.1,285.6 73.5,285.6 74.9,286.2 76.3,286.1 77.7,286.0 79.1,286.9 81.8,293.3 83.2,290.8 84.6,291.5 86.0,290.5 87.4,291.5 88.7,292.3 90.1,293.1 91.5,290.9 92.9,291.2 94.3,290.6 95.6,290.0 97.0,289.3 98.4,290.1 101.2,295.5 102.6,295.1 103.9,294.2 105.3,293.5 106.7,292.9 108.1,295.5 109.5,292.3 110.9,294.4 112.2,293.1 113.6,291.7 115.0,290.5 116.4,292.0 119.2,295.0 120.5,294.9 121.9,295.5 123.3,294.2 124.7,295.0 126.1,292.0 127.4,292.4 128.8,290.1 131.6,295.5 133.0,293.7 134.4,295.1 135.7,294.6 137.1,296.0 138.5,293.5 139.9,293.4 141.3,293.4 142.7,293.9 144.0,291.9 145.4,292.5 146.8,291.5 148.2,290.3 150.9,295.4 152.3,293.8 153.7,295.0 155.1,292.0 156.5,293.6 157.9,292.6 159.2,291.0 160.6,289.7 163.4,295.5 164.8,295.2 166.2,294.1 167.5,294.1 168.9,292.1 170.3,292.2 171.7,289.7 173.1,290.9 174.5,289.5 177.2,294.8 178.6,293.5 180.0,289.6 181.4,291.4 182.7,289.2 184.1,290.7 185.5,291.2 186.9,287.7 188.3,287.4 189.7,286.3 192.4,291.4 193.8,291.0 195.2,288.0 196.6,289.3 198.0,286.1 199.3,286.2 200.7,286.0 202.1,284.6 204.9,287.2 206.2,286.3 207.6,285.7 209.0,285.7 210.4,282.4 211.8,282.9 213.2,282.0 214.5,280.9 217.3,286.0 218.7,284.3 220.1,283.8 221.5,282.7 222.8,283.0 224.2,278.9 225.6,280.9 227.0,278.7 228.4,277.8 229.8,276.4 231.1,274.8 232.5,275.4 235.3,280.6 236.7,278.1 238.0,280.0 239.4,278.2 240.8,277.0 242.2,275.8 243.6,275.0 245.0,273.9 246.3,273.7 247.7,273.5 249.1,272.5 250.5,270.7 251.9,271.0 254.6,275.7 256.0,276.4 257.4,274.4 258.8,272.6 260.2,270.6 261.5,270.0 262.9,269.0 264.3,270.4 265.7,268.3 267.1,268.2 269.8,272.7 271.2,273.1 272.6,270.5 274.0,270.0 275.4,268.8 276.8,269.5 278.1,267.1 279.5,266.2 280.9,265.2 282.3,264.4 285.1,272.3 286.4,268.3 287.8,269.3" fill="none" stroke="none" marker-start="url(#m35)" marker-mid="url(#m35)" marker-end="url(#m35)"/>
<polyline points="69.0,279.0 71.0,282.0 80.0,283.5 95.0,285.5 107.0,289.0 118.0,290.5" fill="none" stroke="none" marker-start="url(#m36)" marker-mid="url(#m36)" marker-end="url(#m36)"/>
<polyline points="70.0,304.3 71.4,303.5 72.8,300.8 75.5,307.1 76.9,306.8 78.3,307.5 79.7,305.6 81.1,305.6 82.4,303.7 83.8,304.6 85.2,304.3 86.6,303.1 88.0,302.6 89.4,304.2 90.7,301.2 92.1,300.8 93.5,300.5 96.3,308.6 97.6,306.6 99.0,305.2 100.4,304.7 101.8,305.1 103.2,302.7 104.6,303.8 105.9,302.9 107.3,301.0 108.7,300.6 110.1,299.9 112.9,303.9 114.2,304.9 115.6,302.9 117.0,301.9 118.4,301.8 119.8,300.8 121.2,299.4 122.5,298.2 123.9,298.0 125.3,299.1 126.7,298.8 128.1,297.0 129.4,296.7 132.2,300.3 133.6,299.3 135.0,297.0 136.4,295.8 137.7,295.4 139.1,293.8 140.5,292.0 141.9,291.9 144.7,297.3 146.0,295.5 147.4,294.3 148.8,293.6 150.2,292.4 151.6,291.0 152.9,290.2 154.3,290.2 155.7,289.1 157.1,288.7 158.5,285.3 159.9,285.3 161.2,284.5 162.6,284.1 165.4,288.3 166.8,288.1 168.2,286.4 169.5,284.1 170.9,284.8 172.3,283.4 173.7,280.9 176.5,285.7 177.8,286.3 179.2,284.2 180.6,282.7 182.0,281.8 183.4,280.4 184.7,279.9 186.1,278.8 187.5,277.5 188.9,275.8 191.7,280.6 193.0,277.6 194.4,277.9 195.8,277.2 197.2,275.1 198.6,273.1 200.0,271.8 202.7,275.7 204.1,274.2 205.5,272.6 206.9,272.8 208.2,270.5 209.6,269.8 211.0,267.4 212.4,266.3 215.2,271.3 216.5,270.5 217.9,268.8 219.3,267.0 220.7,265.8 222.1,266.6 223.5,263.9 224.8,262.7 226.2,263.0 227.6,261.6 229.0,260.0 230.4,258.1 233.1,262.7 234.5,261.3 235.9,259.2 237.3,256.7 238.7,255.2 240.0,255.0 242.8,258.7 244.2,256.6 245.6,255.1 247.0,254.7 248.3,252.5 249.7,253.0 251.1,251.9 252.5,251.9 253.9,249.1 256.6,251.9 258.0,248.4 259.4,249.2 260.8,248.1" fill="none" stroke="none" marker-start="url(#m37)" marker-mid="url(#m37)" marker-end="url(#m37)"/>
<polyline points="152.8,294.5 154.1,292.4 155.5,292.6 156.9,291.6 158.3,291.0 159.7,290.1 161.1,289.8 162.4,288.5 163.8,288.6 165.2,287.4 166.6,286.3 168.0,285.6 170.7,289.8 172.1,288.2 173.5,287.8 174.9,286.6 176.3,285.0 177.6,285.9 179.0,283.8 180.4,284.2 181.8,283.2 183.2,281.0 184.6,280.7 185.9,280.3 188.7,283.3 190.1,283.8 191.5,282.4 192.9,282.0 194.2,280.7 195.6,280.5 197.0,278.9 198.4,278.7 199.8,278.3 201.2,277.2 202.5,276.1 203.9,274.9 206.7,279.3 208.1,278.0 209.4,276.8 210.8,276.9 212.2,277.4 213.6,274.6 215.0,274.2 216.4,273.3 217.7,270.4 220.5,275.0 221.9,275.6 223.3,273.5 224.7,272.3 226.0,271.8 227.4,271.1 228.8,269.8 230.2,269.2 231.6,267.4 234.3,272.0 235.7,271.9 237.1,270.1 238.5,268.9 239.9,268.6 241.2,267.5 242.6,267.0 244.0,265.7 246.8,268.5 248.2,267.6 249.5,266.9 250.9,266.1 252.3,264.7 253.7,263.0" fill="none" stroke="none" marker-start="url(#m37)" marker-mid="url(#m37)" marker-end="url(#m37)"/>
<polyline points="70.0,320.0 75.0,319.0 82.0,321.0 90.0,320.0 103.0,320.0 116.0,320.0 143.0,321.0 76.0,324.0 92.0,324.0 84.0,312.0 95.0,311.0 130.0,312.0 158.0,310.0 173.0,313.0 177.0,299.0 196.0,298.5 207.7,288.0 217.7,291.0 236.0,287.5 252.3,280.0 214.0,368.0 214.0,380.4 215.0,391.0 215.0,395.6 255.6,394.5 262.0,386.5 69.0,327.0 68.0,372.0 68.0,380.0 72.0,297.0 73.5,301.0" fill="none" stroke="none" marker-start="url(#m37)" marker-mid="url(#m37)" marker-end="url(#m37)"/>
<polyline points="70.0,314.0 92.0,313.0 115.0,314.0 135.0,312.0 150.0,316.0 165.0,308.0 180.0,315.0 191.7,308.4 211.0,304.0 235.0,301.0 252.3,298.7 273.0,291.0 214.0,384.3 285.0,292.0" fill="none" stroke="none" marker-start="url(#m35)" marker-mid="url(#m35)" marker-end="url(#m35)"/>
<polyline points="68.0,324.0 69.4,324.7 70.8,325.9 72.1,327.4 73.5,326.9 74.9,327.7 76.3,328.3 77.7,329.1 79.1,330.0 80.4,329.4 81.8,330.1 83.2,331.6 84.6,331.5 86.0,334.5 87.4,333.1 88.7,334.0 90.1,334.2 91.5,334.7 92.9,334.4 94.3,335.6 95.6,335.0 97.0,335.2 98.4,335.3 99.8,335.9 101.2,337.5 102.6,338.6 103.9,338.0 105.3,337.8 106.7,337.6 108.1,337.9 109.5,338.1 110.9,338.0 112.2,337.6 113.6,337.8 115.0,339.7 116.4,340.5 117.8,339.5 119.2,338.1 120.5,340.4 121.9,339.5 123.3,338.5 124.7,339.2 126.1,338.3 127.4,340.0 128.8,341.0 130.2,339.2 131.6,340.4 133.0,339.3 134.4,340.6 135.7,338.2 137.1,337.0 138.5,338.2 139.9,337.6 141.3,337.2 142.7,335.6 144.0,337.1 145.4,337.6 146.8,337.2 148.2,339.1 149.6,337.5 150.9,339.1 152.3,337.4 153.7,336.5 155.1,337.0 156.5,336.2 157.9,335.0 159.2,335.5 160.6,334.2 162.0,332.9 163.4,335.1 164.8,333.0 166.2,334.9 167.5,335.0 168.9,333.2 170.3,332.8 171.7,332.7 173.1,332.0 174.5,331.8 175.8,331.8 177.2,330.0 178.6,332.5 180.0,331.9 181.4,330.0 182.7,330.2 184.1,328.7 185.5,329.4 186.9,328.2 188.3,327.2" fill="none" stroke="none" marker-start="url(#m38)" marker-mid="url(#m38)" marker-end="url(#m38)"/>
<polyline points="68.0,328.2 70.6,334.3 73.2,337.3 75.8,341.0 78.4,342.4 81.0,343.8 83.6,346.2 86.2,347.0 88.8,347.2 91.4,349.0 94.0,348.6 96.6,349.1 99.2,349.9 101.8,349.9 104.4,350.6 107.0,351.3 109.6,352.8" fill="none" stroke="none" marker-start="url(#m38)" marker-mid="url(#m38)" marker-end="url(#m38)"/>
<polyline points="100.0,357.9 101.4,358.2 102.8,356.1 104.1,359.5 105.5,359.5 106.9,359.6 108.3,359.9 109.7,360.6 111.1,359.4 112.4,360.3 113.8,361.6 115.2,362.1 116.6,363.5 118.0,363.1 119.4,361.9 120.7,363.3 122.1,362.8 123.5,362.2 124.9,363.1 126.3,362.4 127.6,361.3 129.0,364.1 130.4,366.3 131.8,363.6 133.2,364.9 134.6,365.1 135.9,365.0 137.3,363.5 138.7,364.1 140.1,364.3 141.5,364.3 142.9,362.6 144.2,364.1 145.6,365.3 147.0,364.9 148.4,363.7 149.8,362.4 151.2,362.7 152.5,361.9 153.9,362.0 155.3,359.8 156.7,360.4 158.1,359.6 159.4,358.3 160.8,358.9 162.2,360.9 163.6,360.0 165.0,360.1 166.4,358.1 167.7,358.7 169.1,358.6 170.5,357.9 171.9,358.1 173.3,358.2 174.7,357.4 176.0,358.3 177.4,358.0 178.8,358.8 180.2,357.1 181.6,355.4 182.9,356.2 184.3,356.8 185.7,355.8 187.1,358.6 188.5,356.3 189.9,356.1 191.2,355.5 192.6,356.0 194.0,354.3 195.4,354.5 196.8,354.8 198.2,354.1 199.5,355.9 200.9,355.5 202.3,354.4 203.7,353.7 205.1,353.2 206.5,352.1" fill="none" stroke="none" marker-start="url(#m35)" marker-mid="url(#m35)" marker-end="url(#m35)"/>
<polyline points="68.0,369.1 69.4,364.8 70.8,362.3 72.1,360.3 73.5,360.4 74.9,358.7 76.3,358.6 77.7,358.9 79.1,358.3 80.4,358.6 81.8,359.4 83.2,358.1 84.6,357.8 86.0,356.8 87.4,357.8 88.7,357.2 90.1,357.1 91.5,356.4 92.9,356.3 94.3,356.1 95.6,355.3 97.0,354.8 98.4,354.4 99.8,354.8 101.2,354.2 102.6,354.2 103.9,355.0 105.3,353.9 106.7,353.8 108.1,352.4 109.5,353.6 110.9,352.6 112.2,351.5 113.6,350.5 115.0,350.8 116.4,349.2 117.8,350.5 119.2,350.7 120.5,349.9 121.9,349.2 123.3,349.3 124.7,347.9 126.1,348.0 127.4,347.1 128.8,346.5 130.2,346.6 131.6,346.7 133.0,347.5 134.4,345.8 135.7,346.5 137.1,344.6 138.5,344.8 139.9,343.5 141.3,342.9 142.7,343.1 144.0,342.8 145.4,341.4 146.8,342.0 148.2,340.6 149.6,341.8 150.9,341.4 152.3,340.9 153.7,339.3 155.1,340.4 156.5,339.4 157.9,338.4 159.2,337.6 160.6,336.7 162.0,336.3 163.4,336.6 164.8,335.6 166.2,335.9 167.5,335.6 168.9,335.9 170.3,334.5 171.7,333.7 173.1,334.0 174.5,333.0 175.8,332.2 177.2,331.3 178.6,330.3 180.0,329.8 181.4,330.8 182.7,330.3 184.1,330.0 185.5,329.5 186.9,328.7 188.3,328.1 189.7,327.0 191.0,325.8 192.4,326.0 193.8,325.2 195.2,324.7 196.6,324.3 198.0,323.2 199.3,324.0 200.7,323.8 202.1,323.3 203.5,322.3 204.9,322.2 206.2,321.3 207.6,320.3 209.0,320.2 210.4,320.4 211.8,318.6 213.2,318.8" fill="none" stroke="none" marker-start="url(#m39)" marker-mid="url(#m39)" marker-end="url(#m39)"/>
<polyline points="66.5,348.1 67.9,351.4 69.3,353.0 70.6,355.4 72.0,354.9 73.4,357.1 74.8,358.1 76.2,357.6 77.6,358.4 78.9,359.7 80.3,362.5 81.7,362.7 83.1,363.3 84.5,363.0 85.9,362.6 87.2,361.1 88.6,361.1 90.0,361.4 91.4,360.0 92.8,359.5 94.1,360.0 95.5,363.6 96.9,361.6 98.3,360.3 99.7,360.7 101.1,360.4 102.4,360.3 103.8,360.2 105.2,359.1 106.6,358.2 108.0,358.1 109.4,356.9 110.7,356.8 112.1,355.9 113.5,357.3 114.9,355.5 116.3,357.5 117.7,356.8 119.0,356.5 120.4,355.2 121.8,355.2 123.2,354.6 124.6,355.0 125.9,353.6 127.3,352.8 128.7,351.8 130.1,351.4 131.5,351.4 132.9,350.8 134.2,351.0 135.6,352.7 137.0,353.0 138.4,351.8 139.8,351.0 141.2,349.1 142.5,348.8 143.9,349.3 145.3,348.9 146.7,347.5 148.1,350.6 149.4,349.2 150.8,348.4 152.2,347.5 153.6,347.8 155.0,346.6 156.4,345.5 157.7,344.7 159.1,344.5 160.5,347.2 161.9,345.9 163.3,346.8 164.7,345.3 166.0,344.5 167.4,344.7 168.8,343.8 170.2,342.5 171.6,342.3 173.0,340.7 174.3,340.3 175.7,342.2 177.1,343.7 178.5,341.2 179.9,342.1 181.2,340.4 182.6,339.4 184.0,339.1 185.4,338.5 186.8,337.9 188.2,337.8 189.5,336.1 190.9,339.0 192.3,337.3 193.7,337.3 195.1,336.1 196.5,334.9 197.8,334.2 199.2,333.4 200.6,332.7 202.0,332.0 203.4,330.6 204.7,333.2 206.1,333.3 207.5,331.0 208.9,330.9 210.3,331.4 211.7,328.1 213.0,328.5 214.4,328.6 215.8,326.4 217.2,328.2 218.6,324.3 220.0,326.0 221.3,325.3 222.7,327.6 224.1,326.2 225.5,325.8 226.9,324.2 228.3,324.5 229.6,322.5 231.0,322.3 232.4,322.3 233.8,320.2 235.2,319.9 236.5,319.5 237.9,317.8 239.3,322.0 240.7,320.7 242.1,318.8 243.5,318.9 244.8,317.7 246.2,316.9 247.6,316.6 249.0,315.3 250.4,315.5 251.8,313.7 253.1,313.9" fill="none" stroke="none" marker-start="url(#m40)" marker-mid="url(#m40)" marker-end="url(#m40)"/>
<polyline points="68.0,352.0 72.6,359.3 77.2,362.1 81.8,365.2 86.4,366.2 91.0,369.3 95.6,370.7 100.2,372.8 104.8,373.1 109.4,371.8 114.0,370.9 118.6,371.0 123.2,370.2 127.8,370.2 132.4,367.9 137.0,364.4 141.6,362.9 146.2,363.4 150.8,361.0 155.4,359.2 160.0,359.1 164.6,356.3 169.2,355.0 173.8,353.4 178.4,350.5 183.0,351.5 187.6,348.1 192.2,347.1 196.8,345.4 201.4,344.6 206.0,341.5 210.6,339.2 215.2,335.8 219.8,335.8 224.4,333.0 229.0,333.2 233.6,331.8 238.2,329.8 242.8,330.0 247.4,327.1 252.0,325.5" fill="none" stroke="none" marker-start="url(#m40)" marker-mid="url(#m40)" marker-end="url(#m40)"/>
<polyline points="66.5,392.2 67.9,391.5 69.3,390.4 70.6,389.8 72.0,389.8 73.4,390.3 74.8,389.8 76.2,389.3 77.6,389.1 78.9,388.8 80.3,386.9 81.7,389.4 83.1,388.7 84.5,388.0 85.9,387.9 87.2,387.6 88.6,387.1 90.0,386.1 91.4,386.1 92.8,386.9 94.1,384.9 95.5,384.1 96.9,386.6 98.3,386.3 99.7,385.8 101.1,384.5 102.4,385.0 103.8,383.6 105.2,382.9 106.6,382.7 108.0,382.4 109.4,382.3 110.7,383.8 112.1,382.9 113.5,382.9 114.9,381.9 116.3,381.8 117.7,380.2 119.0,379.6 120.4,380.2 121.8,378.6 123.2,378.7 124.6,378.3 125.9,379.6 127.3,379.1 128.7,379.5 130.1,377.0 131.5,378.2 132.9,378.4 134.2,376.7 135.6,376.2 137.0,376.0 138.4,376.0 139.8,374.0 141.2,376.2 142.5,375.6 143.9,375.6 145.3,374.9 146.7,374.7 148.1,373.8 149.4,373.5 150.8,372.7 152.2,372.3 153.6,372.1 155.0,371.7 156.4,370.7 157.7,373.7 159.1,372.3 160.5,371.2 161.9,372.0 163.3,370.6 164.7,370.7 166.0,369.9 167.4,369.6 168.8,369.1 170.2,368.2 171.6,369.9 173.0,370.4 174.3,367.7 175.7,368.2 177.1,368.5 178.5,368.0 179.9,368.1 181.2,370.2 182.6,371.2 184.0,371.7 185.4,369.8 186.8,368.5 188.2,367.7 189.5,366.7 190.9,366.2 192.3,365.3 193.7,364.7 195.1,364.2 196.5,364.2 197.8,365.4 199.2,363.9 200.6,363.5 202.0,363.4 203.4,362.6 204.7,362.5 206.1,362.0 207.5,362.1 208.9,364.2" fill="none" stroke="none" marker-start="url(#m41)" marker-mid="url(#m41)" marker-end="url(#m41)"/>
<polyline points="66.5,405.1 69.9,403.8 73.3,405.9 76.7,403.0 80.1,405.7 83.5,402.4 86.9,401.0 90.3,399.0 93.7,395.5 97.1,397.6 100.5,397.1 103.9,398.1 107.3,393.7 110.7,396.4 114.1,393.2 117.5,393.4 120.9,389.0 124.3,391.3 127.7,390.1 131.1,390.5 134.5,389.2 137.9,387.2" fill="none" stroke="none" marker-start="url(#m42)" marker-mid="url(#m42)" marker-end="url(#m42)"/>
<polyline points="66.5,404.8 67.9,404.5 69.3,404.3 70.7,404.6 72.1,404.6 73.5,403.6 74.9,402.4 76.3,402.0 77.7,403.9 79.1,403.0 80.5,402.1 81.9,401.3 83.3,401.3 84.7,401.0 86.1,400.3 87.5,399.6 88.9,401.6 90.3,399.6 91.7,398.6" fill="none" stroke="none" marker-start="url(#m43)" marker-mid="url(#m43)" marker-end="url(#m43)"/>
<polyline points="75.0,389.9 76.4,390.7 77.8,389.8 79.1,390.5 80.5,388.4 81.9,388.3 83.3,388.4 84.7,387.4 86.1,386.4 87.4,386.2 88.8,386.3 90.2,386.0 91.6,385.4 93.0,385.5 94.4,387.1 95.7,386.3 97.1,385.7 98.5,385.1 99.9,385.0 101.3,384.7 102.6,383.7 104.0,383.4 105.4,382.5 106.8,381.4 108.2,381.1 109.6,383.5 110.9,382.8 112.3,382.8 113.7,381.5 115.1,381.3 116.5,381.0 117.9,380.3 119.2,378.9 120.6,380.6 122.0,380.3 123.4,379.2 124.8,379.5 126.2,379.3 127.5,378.0 128.9,378.8 130.3,377.2 131.7,376.7 133.1,376.2 134.4,375.5 135.8,375.6 137.2,376.9 138.6,377.3 140.0,376.3 141.4,375.8 142.7,375.0 144.1,374.0 145.5,374.2 146.9,373.4 148.3,373.9 149.7,373.0 151.0,373.4 152.4,372.5 153.8,372.1 155.2,371.4 156.6,373.0 157.9,372.7 159.3,372.4 160.7,371.2 162.1,371.3 163.5,372.0 164.9,370.2 166.2,369.6 167.6,369.0" fill="none" stroke="none" marker-start="url(#m44)" marker-mid="url(#m44)" marker-end="url(#m44)"/>
<polyline points="92.0,397.1 96.3,398.2 100.6,395.9 104.9,395.0 109.2,395.4 113.5,394.9 117.8,390.8" fill="none" stroke="none" marker-start="url(#m43)" marker-mid="url(#m43)" marker-end="url(#m43)"/>
<polyline points="242.6,363.7 244.0,363.7 245.4,363.0 246.7,362.4 248.1,361.8 249.5,362.1 250.9,361.0 252.3,360.2 253.7,359.4 255.0,359.2 256.4,358.4 257.8,358.5 259.2,360.1 260.6,358.5 262.0,359.1 263.3,359.0 264.7,358.4 266.1,357.4 267.5,358.1 268.9,356.7 270.2,356.0 271.6,355.7 273.0,355.8 274.4,357.9 275.8,357.7 277.2,356.9 278.5,355.9 279.9,355.9 281.3,355.4 282.7,355.5 284.1,354.4 285.5,355.0 286.8,355.0" fill="none" stroke="none" marker-start="url(#m41)" marker-mid="url(#m41)" marker-end="url(#m41)"/>
<polyline points="209.0,235.9 210.4,235.7 211.8,234.5 213.1,233.8 214.5,233.7 215.9,234.1 217.3,233.5 218.7,232.3 220.1,232.6 221.4,231.6 222.8,232.2 224.2,231.4 225.6,230.7 227.0,231.0 228.4,230.0 229.7,229.6 231.1,229.1 232.5,229.7" fill="none" stroke="none" marker-start="url(#m41)" marker-mid="url(#m41)" marker-end="url(#m41)"/>
<polyline points="209.4,253.2 172.0,383.7 183.4,379.8 280.5,368.5 284.4,352.3 150.0,385.0 160.0,383.0 172.5,384.0 148.0,366.5 152.0,369.0 136.0,385.5 128.0,388.0 85.0,388.0 78.0,387.0" fill="none" stroke="none" marker-start="url(#m45)" marker-mid="url(#m45)" marker-end="url(#m45)"/>
</g>
<text x="66.2" y="421.5" font-size="9.3" text-anchor="middle" >0</text>
<text x="121.5" y="421.5" font-size="9.3" text-anchor="middle" >40</text>
<text x="176.8" y="421.5" font-size="9.3" text-anchor="middle" >80</text>
<text x="232.1" y="421.5" font-size="9.3" text-anchor="middle" >120</text>
<text x="287.4" y="421.5" font-size="9.3" text-anchor="middle" >160</text>
<text x="61.5" y="385.8" font-size="9.3" text-anchor="end" >0.1</text>
<text x="61.5" y="325.0" font-size="9.3" text-anchor="end" >0.12</text>
<text x="61.5" y="264.2" font-size="9.3" text-anchor="end" >0.14</text>
<text x="187.2" y="433.6" font-size="11.4" text-anchor="middle" textLength="76.2" lengthAdjust="spacingAndGlyphs" >Cycle Number</text>
<text x="37.1" y="326.9" font-size="11.8" text-anchor="start" transform="rotate(-90 37.1 326.9)" textLength="26.2" lengthAdjust="spacingAndGlyphs">V (V)</text>
<text x="37" y="335.4" font-size="7.4" text-anchor="start" transform="rotate(-90 37 335.4)" font-family="DejaVu Sans, sans-serif">△</text>
<text x="39" y="231.3" font-size="7.3" text-anchor="middle" >C</text>
<rect x="330" y="229" width="165.5" height="67.5" fill="#fff" stroke="#111" stroke-width="1.1"/>
<g transform="translate(341.7 238.7)"><path d="M-2.8 0L2.24 -2.8L2.24 2.8Z" fill="none" stroke="#a47fd6" stroke-width="0.7"/></g>
<text x="354.5" y="241.9" font-size="9.0" text-anchor="start" textLength="91.5" lengthAdjust="spacingAndGlyphs" >Type A NMC/graphite</text>
<g transform="translate(341.7 250.7)"><path d="M0 -2.8L2.8 0L0 2.8L-2.8 0Z" fill="none" stroke="#f2b3d0" stroke-width="0.6"/></g>
<text x="354.5" y="253.9" font-size="9.0" text-anchor="start" textLength="126.5" lengthAdjust="spacingAndGlyphs" >Type B LCO/graphite:Si-alloy</text>
<g transform="translate(341.7 262.7)"><rect x="-2.2" y="-2.2" width="4.4" height="4.4" fill="none" stroke="#2f7a24" stroke-width="1.3"/></g>
<text x="354.5" y="265.9" font-size="9.0" text-anchor="start" textLength="110" lengthAdjust="spacingAndGlyphs" >Type C NCA/graphite:SiO</text>
<g transform="translate(341.7 274.7)"><path d="M0 -2.3L2.3 1.84L-2.3 1.84Z" fill="none" stroke="#2f63f0" stroke-width="0.7"/></g>
<text x="354.5" y="277.9" font-size="9.0" text-anchor="start" textLength="133" lengthAdjust="spacingAndGlyphs" >Type D NCA/Si:C (low loading)</text>
<g transform="translate(341.7 286.7)"><circle r="2.7" fill="none" stroke="#cf8168" stroke-width="0.7"/></g>
<text x="354.5" y="289.9" font-size="9.0" text-anchor="start" textLength="136.5" lengthAdjust="spacingAndGlyphs" >Type E NCA/Si:C (high loading)</text>
<rect x="60.9" y="571.3" width="22.2" height="0.5" fill="#7a3fc4"/>
<rect x="91.6" y="517.5" width="22.2" height="53.8" fill="#3a7d2c"/>
<path d="M102.7 501.2V533.7M99.4 501.2h6.6M99.4 533.7h6.6M97.7 517.5h10" stroke="#222" stroke-width="0.6" fill="none"/>
<rect x="121.6" y="522.0" width="22.2" height="49.3" fill="#ee6633"/>
<path d="M132.7 516.6V527.4M129.4 516.6h6.6M129.4 527.4h6.6M127.7 522.0h10" stroke="#222" stroke-width="0.6" fill="none"/>
<rect x="151.7" y="507.4" width="22.2" height="63.9" fill="#45b8f5"/>
<path d="M162.8 497.8V517.0M159.5 497.8h6.6M159.5 517.0h6.6M157.8 507.4h10" stroke="#222" stroke-width="0.6" fill="none"/>
<rect x="181.9" y="475.5" width="22.2" height="95.8" fill="#f093c0"/>
<path d="M193.0 475.2V475.8M189.7 475.2h6.6M189.7 475.8h6.6M188.0 475.5h10" stroke="#222" stroke-width="0.6" fill="none"/>
<path d="M58.8 461.2V571.3H206.0" stroke="#111" stroke-width="0.9" fill="none"/>
<path d="M58.8 571.3h3" stroke="#111" stroke-width="0.9"/>
<text x="55.8" y="573.8" font-size="7.0" text-anchor="end" >0</text>
<path d="M58.8 534.8h3" stroke="#111" stroke-width="0.9"/>
<text x="55.8" y="537.3" font-size="7.0" text-anchor="end" >0.04</text>
<path d="M58.8 498.2h3" stroke="#111" stroke-width="0.9"/>
<text x="55.8" y="500.7" font-size="7.0" text-anchor="end" >0.08</text>
<path d="M58.8 461.7h3" stroke="#111" stroke-width="0.9"/>
<text x="55.8" y="464.2" font-size="7.0" text-anchor="end" >0.12</text>
<text x="72.4" y="580.8" font-size="8.3" text-anchor="middle" >Type A</text>
<text x="103.1" y="580.8" font-size="8.3" text-anchor="middle" >Type C</text>
<text x="133.1" y="580.8" font-size="8.3" text-anchor="middle" >Type E</text>
<text x="163.2" y="580.8" font-size="8.3" text-anchor="middle" >Type D</text>
<text x="193.4" y="580.8" font-size="8.3" text-anchor="middle" >Type B</text>
<text x="34.6" y="570.2" font-size="10.4" text-anchor="start" transform="rotate(-90 34.6 570.2)" textLength="109.5" lengthAdjust="spacingAndGlyphs">% Capacity Loss / Cyc</text>
<text x="39.5" y="445.2" font-size="7.3" text-anchor="middle" >D</text>
<rect x="60.9" y="571.2" width="22.2" height="1.1" fill="#7a3fc4"/>
<rect x="244.0" y="563.8" width="22.2" height="7.5" fill="#7a3fc4"/>
<path d="M255.1 563.4V564.3M251.8 563.4h6.6M251.8 564.3h6.6M250.1 563.8h10" stroke="#222" stroke-width="0.6" fill="none"/>
<rect x="274.1" y="551.4" width="22.2" height="19.9" fill="#3a7d2c"/>
<path d="M285.2 550.7V552.0M281.9 550.7h6.6M281.9 552.0h6.6M280.2 551.4h10" stroke="#222" stroke-width="0.6" fill="none"/>
<rect x="303.9" y="529.4" width="22.2" height="41.9" fill="#ee6633"/>
<path d="M315.0 520.2V538.6M311.7 520.2h6.6M311.7 538.6h6.6M310.0 529.4h10" stroke="#222" stroke-width="0.6" fill="none"/>
<rect x="334.1" y="489.8" width="22.2" height="81.5" fill="#45b8f5"/>
<path d="M345.2 476.2V503.3M341.9 476.2h6.6M341.9 503.3h6.6M340.2 489.8h10" stroke="#222" stroke-width="0.6" fill="none"/>
<rect x="364.4" y="473.8" width="22.2" height="97.5" fill="#f093c0"/>
<path d="M375.5 473.3V474.2M372.2 473.3h6.6M372.2 474.2h6.6M370.5 473.8h10" stroke="#222" stroke-width="0.6" fill="none"/>
<path d="M241 461.2V571.3H388.5" stroke="#111" stroke-width="0.9" fill="none"/>
<path d="M241 571.3h3" stroke="#111" stroke-width="0.9"/>
<text x="238.0" y="573.8" font-size="7.0" text-anchor="end" >0</text>
<path d="M241 549.4h3" stroke="#111" stroke-width="0.9"/>
<text x="238.0" y="551.9" font-size="7.0" text-anchor="end" >0.1</text>
<path d="M241 527.5h3" stroke="#111" stroke-width="0.9"/>
<text x="238.0" y="530.0" font-size="7.0" text-anchor="end" >0.2</text>
<path d="M241 505.5h3" stroke="#111" stroke-width="0.9"/>
<text x="238.0" y="508.0" font-size="7.0" text-anchor="end" >0.3</text>
<path d="M241 483.6h3" stroke="#111" stroke-width="0.9"/>
<text x="238.0" y="486.1" font-size="7.0" text-anchor="end" >0.4</text>
<path d="M241 461.7h3" stroke="#111" stroke-width="0.9"/>
<text x="238.0" y="464.2" font-size="7.0" text-anchor="end" >0.5</text>
<text x="255.5" y="580.8" font-size="8.3" text-anchor="middle" >Type A</text>
<text x="285.6" y="580.8" font-size="8.3" text-anchor="middle" >Type C</text>
<text x="315.4" y="580.8" font-size="8.3" text-anchor="middle" >Type E</text>
<text x="345.6" y="580.8" font-size="8.3" text-anchor="middle" >Type D</text>
<text x="375.9" y="580.8" font-size="8.3" text-anchor="middle" >Type B</text>
<text x="219.2" y="583.8" font-size="10.4" text-anchor="start" transform="rotate(-90 219.2 583.8)" textLength="137.4" lengthAdjust="spacingAndGlyphs">Pressure Growth / Cyc (PSI)</text>
<text x="228" y="445.2" font-size="7.3" text-anchor="middle" >E</text>
<filter id="blur" x="-10%" y="-30%" width="120%" height="160%"><feGaussianBlur stdDeviation="3"/></filter>
<clipPath id="clipF1"><path d="M380 430H600V593H380Z M455 556H588V585H455Z" clip-rule="evenodd"/></clipPath>
<rect x="469.9" y="538.4" width="22.2" height="32.9" fill="#3a7d2c"/>
<path d="M481.0 538.0V538.9M477.7 538.0h6.6M477.7 538.9h6.6M476.0 538.4h10" stroke="#222" stroke-width="0.6" fill="none"/>
<rect x="499.7" y="528.6" width="22.2" height="42.7" fill="#ee6633"/>
<path d="M510.8 524.2V532.9M507.5 524.2h6.6M507.5 532.9h6.6M505.8 528.6h10" stroke="#222" stroke-width="0.6" fill="none"/>
<rect x="529.9" y="478.1" width="22.2" height="93.2" fill="#45b8f5"/>
<path d="M541.0 474.6V481.7M537.7 474.6h6.6M537.7 481.7h6.6M536.0 478.1h10" stroke="#222" stroke-width="0.6" fill="none"/>
<rect x="560.1" y="484.4" width="22.2" height="86.9" fill="#f093c0"/>
<path d="M571.2 484.1V484.8M567.9 484.1h6.6M567.9 484.8h6.6M566.2 484.4h10" stroke="#222" stroke-width="0.6" fill="none"/>
<path d="M436.6 461.2V571.3H584.2" stroke="#111" stroke-width="0.9" fill="none"/>
<path d="M436.6 571.3h3" stroke="#111" stroke-width="0.9"/>
<text x="434.20000000000005" y="573.8" font-size="6.7" text-anchor="end">0.0x10<tspan font-size="4.3" dy="-2.9">0</tspan></text>
<path d="M436.6 549.4h3" stroke="#111" stroke-width="0.9"/>
<text x="434.20000000000005" y="551.9" font-size="6.7" text-anchor="end">4.0x10<tspan font-size="4.3" dy="-2.9">-5</tspan></text>
<path d="M436.6 527.5h3" stroke="#111" stroke-width="0.9"/>
<text x="434.20000000000005" y="530.0" font-size="6.7" text-anchor="end">8.0x10<tspan font-size="4.3" dy="-2.9">-5</tspan></text>
<path d="M436.6 505.5h3" stroke="#111" stroke-width="0.9"/>
<text x="434.20000000000005" y="508.0" font-size="6.7" text-anchor="end">1.2x10<tspan font-size="4.3" dy="-2.9">-4</tspan></text>
<path d="M436.6 483.6h3" stroke="#111" stroke-width="0.9"/>
<text x="434.20000000000005" y="486.1" font-size="6.7" text-anchor="end">1.6x10<tspan font-size="4.3" dy="-2.9">-4</tspan></text>
<path d="M436.6 461.7h3" stroke="#111" stroke-width="0.9"/>
<text x="434.20000000000005" y="464.2" font-size="6.7" text-anchor="end">2.0x10<tspan font-size="4.3" dy="-2.9">-4</tspan></text>
<text x="402.7" y="557.3" font-size="10.4" text-anchor="start" transform="rotate(-90 402.7 557.3)" textLength="91.5" lengthAdjust="spacingAndGlyphs">V Growth / Cyc (V)</text><text x="402.4" y="564.2" font-size="6.6" text-anchor="start" transform="rotate(-90 402.4 564.2)" font-family="DejaVu Sans, sans-serif">△</text>
<text x="419" y="445.2" font-size="7.3" text-anchor="middle" >F</text>
<text x="437.6" y="580.8" font-size="8.3" text-anchor="start" >Type</text>
<linearGradient id="mg" x1="0" y1="0" x2="0" y2="1"><stop offset="0" stop-color="#000"/><stop offset="0.1" stop-color="#000"/><stop offset="0.3" stop-color="#fff"/><stop offset="1" stop-color="#fff"/></linearGradient>
<filter id="blur2" x="-10%" y="-10%" width="120%" height="120%"><feGaussianBlur stdDeviation="2.5 0.1"/></filter>
<filter id="blurT" x="-10%" y="-30%" width="120%" height="160%"><feGaussianBlur stdDeviation="1.1"/></filter>
<mask id="maskF" maskUnits="userSpaceOnUse" x="440" y="540" width="160" height="53"><rect x="457" y="546" width="130" height="42" fill="url(#mg)" filter="url(#blur2)"/></mask>
<clipPath id="cTop"><rect x="440" y="540" width="160" height="33"/></clipPath>
<linearGradient id="veil" x1="0" y1="0" x2="0" y2="1"><stop offset="0" stop-color="#fff" stop-opacity="0"/><stop offset="0.12" stop-color="#fff" stop-opacity="0"/><stop offset="0.55" stop-color="#fff" stop-opacity="0.9"/><stop offset="0.64" stop-color="#fff" stop-opacity="0.9"/><stop offset="0.7" stop-color="#fff" stop-opacity="0.3"/><stop offset="1" stop-color="#fff" stop-opacity="0.3"/></linearGradient>
<g mask="url(#maskF)"><rect x="440" y="540" width="160" height="53" fill="#fff"/><g clip-path="url(#cTop)"><g filter="url(#blur)"><rect x="469.9" y="538.4" width="22.2" height="32.9" fill="#3a7d2c"/><rect x="499.7" y="528.6" width="22.2" height="42.7" fill="#ee6633"/><rect x="529.9" y="478.1" width="22.2" height="93.2" fill="#45b8f5"/><rect x="560.1" y="484.4" width="22.2" height="86.9" fill="#f093c0"/><path d="M436.6 571.3H584.2" stroke="#111" stroke-width="0.9" fill="none"/></g></g><rect x="440" y="546" width="160" height="42" fill="url(#veil)"/></g>
<g filter="url(#blurT)" opacity="0.7"><text x="459.3" y="580.8" font-size="8.3" text-anchor="start">A</text><text x="481.4" y="580.8" font-size="8.3" text-anchor="middle">Type C</text><text x="511.2" y="580.8" font-size="8.3" text-anchor="middle">Type E</text><text x="541.4" y="580.8" font-size="8.3" text-anchor="middle">Type D</text><text x="571.6" y="580.8" font-size="8.3" text-anchor="middle">Type B</text></g></svg></body></html>
